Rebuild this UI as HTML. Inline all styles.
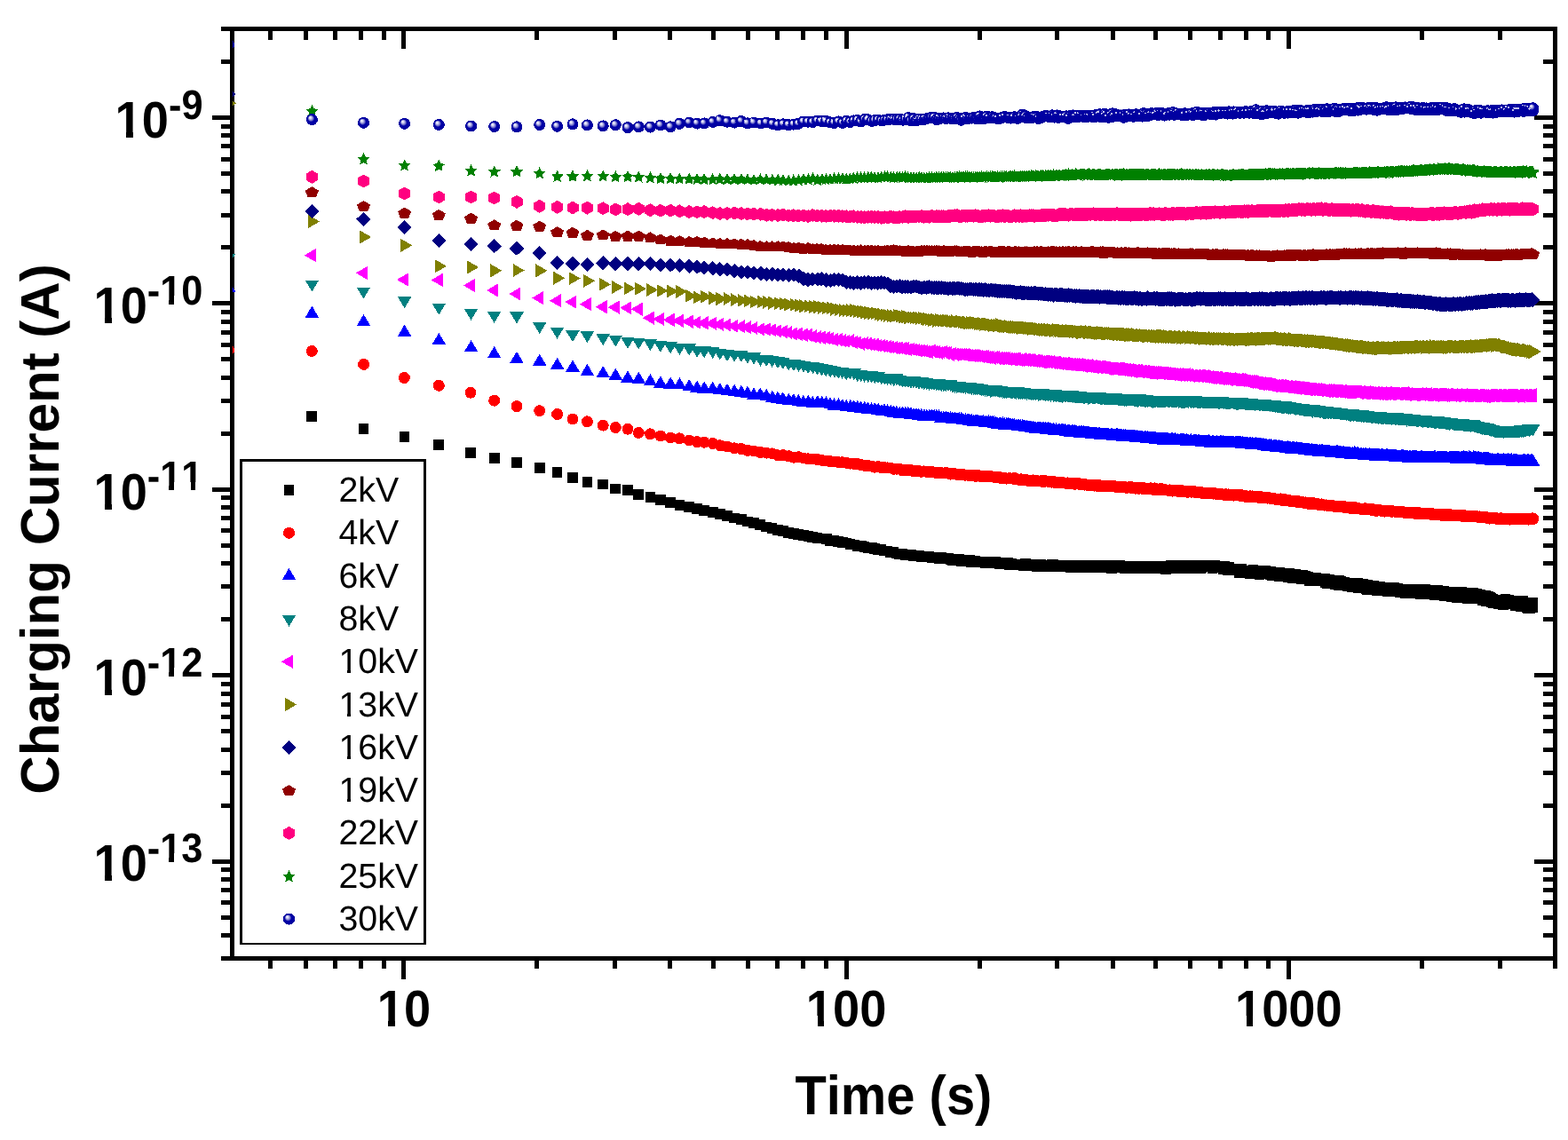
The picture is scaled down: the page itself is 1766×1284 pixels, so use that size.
<!DOCTYPE html><html><head><meta charset="utf-8"><title>Charging Current vs Time</title>
<style>html,body{margin:0;padding:0;background:#fff;}svg{display:block;}text{font-family:"Liberation Sans",Arial,Helvetica,sans-serif;}marker *,#defs-shapes *,polygon,rect,circle,path{shape-rendering:crispEdges;}</style></head><body>
<svg width="1766" height="1284" viewBox="0 0 1766 1284">
<defs>
<radialGradient id="gsph" cx="0.5" cy="0.5" r="0.5" fx="0.32" fy="0.3"><stop offset="0" stop-color="#ffffff"/><stop offset="0.17" stop-color="#d8d8f4"/><stop offset="0.35" stop-color="#7878cc"/><stop offset="0.52" stop-color="#0000a8"/><stop offset="1" stop-color="#00009e"/></radialGradient>
<radialGradient id="gsph2" cx="0.5" cy="0.5" r="0.5" fx="0.32" fy="0.3"><stop offset="0" stop-color="#ffffff"/><stop offset="0.2" stop-color="#d4d4f2"/><stop offset="0.42" stop-color="#7070c8"/><stop offset="0.58" stop-color="#0000a8"/><stop offset="1" stop-color="#00009e"/></radialGradient>
<clipPath id="cp"><rect x="261.9" y="32.4" width="1489.6" height="1047.1"/></clipPath>
<marker id="m0" markerUnits="userSpaceOnUse" markerWidth="20" markerHeight="20" refX="0" refY="0" viewBox="-10 -10 20 20" overflow="visible"><rect x="-5.8" y="-5.8" width="11.6" height="11.6" fill="#000000"/></marker>
<g id="s0"><rect x="-5.8" y="-5.8" width="11.6" height="11.6" fill="#000000"/></g>
<marker id="m1" markerUnits="userSpaceOnUse" markerWidth="20" markerHeight="20" refX="0" refY="0" viewBox="-10 -10 20 20" overflow="visible"><circle r="6.5" fill="#FF0000"/></marker>
<g id="s1"><circle r="6.5" fill="#FF0000"/></g>
<marker id="m2" markerUnits="userSpaceOnUse" markerWidth="20" markerHeight="20" refX="0" refY="0" viewBox="-10 -10 20 20" overflow="visible"><polygon points="0,-6.6 7.8,6.6 -7.8,6.6" fill="#0000FF"/></marker>
<g id="s2"><polygon points="0,-6.6 7.8,6.6 -7.8,6.6" fill="#0000FF"/></g>
<marker id="m3" markerUnits="userSpaceOnUse" markerWidth="20" markerHeight="20" refX="0" refY="0" viewBox="-10 -10 20 20" overflow="visible"><polygon points="0,6.5 7.8,-6.5 -7.8,-6.5" fill="#008080"/></marker>
<g id="s3"><polygon points="0,6.5 7.8,-6.5 -7.8,-6.5" fill="#008080"/></g>
<marker id="m4" markerUnits="userSpaceOnUse" markerWidth="20" markerHeight="20" refX="0" refY="0" viewBox="-10 -10 20 20" overflow="visible"><polygon points="-8.7,0 4.3,-7.6 4.3,7.6" fill="#FF00FF"/></marker>
<g id="s4"><polygon points="-8.7,0 4.3,-7.6 4.3,7.6" fill="#FF00FF"/></g>
<marker id="m5" markerUnits="userSpaceOnUse" markerWidth="20" markerHeight="20" refX="0" refY="0" viewBox="-10 -10 20 20" overflow="visible"><polygon points="8.7,0 -4.3,-7.5 -4.3,7.5" fill="#808000"/></marker>
<g id="s5"><polygon points="8.7,0 -4.3,-7.5 -4.3,7.5" fill="#808000"/></g>
<marker id="m6" markerUnits="userSpaceOnUse" markerWidth="20" markerHeight="20" refX="0" refY="0" viewBox="-10 -10 20 20" overflow="visible"><polygon points="0,-8.1 8.2,0 0,8.1 -8.2,0" fill="#000080"/></marker>
<g id="s6"><polygon points="0,-8.1 8.2,0 0,8.1 -8.2,0" fill="#000080"/></g>
<marker id="m7" markerUnits="userSpaceOnUse" markerWidth="20" markerHeight="20" refX="0" refY="0" viewBox="-10 -10 20 20" overflow="visible"><polygon points="0,-6 7.6,-1.4 4.7,6 -4.7,6 -7.6,-1.4" fill="#900000"/></marker>
<g id="s7"><polygon points="0,-6 7.6,-1.4 4.7,6 -4.7,6 -7.6,-1.4" fill="#900000"/></g>
<marker id="m8" markerUnits="userSpaceOnUse" markerWidth="20" markerHeight="20" refX="0" refY="0" viewBox="-10 -10 20 20" overflow="visible"><polygon points="0,-7.5 6.5,-3.75 6.5,3.75 0,7.5 -6.5,3.75 -6.5,-3.75" fill="#FF0080"/></marker>
<g id="s8"><polygon points="0,-7.5 6.5,-3.75 6.5,3.75 0,7.5 -6.5,3.75 -6.5,-3.75" fill="#FF0080"/></g>
<marker id="m9" markerUnits="userSpaceOnUse" markerWidth="20" markerHeight="20" refX="0" refY="0" viewBox="-10 -10 20 20" overflow="visible"><polygon points="0.00,-6.60 2.12,-2.22 6.94,-1.56 3.42,1.81 4.29,6.60 0.00,4.30 -4.29,6.60 -3.42,1.81 -6.94,-1.56 -2.12,-2.22" fill="#008000"/></marker>
<g id="s9"><polygon points="0.00,-6.60 2.12,-2.22 6.94,-1.56 3.42,1.81 4.29,6.60 0.00,4.30 -4.29,6.60 -3.42,1.81 -6.94,-1.56 -2.12,-2.22" fill="#008000"/></g>
<marker id="m10" markerUnits="userSpaceOnUse" markerWidth="20" markerHeight="20" refX="0" refY="0" viewBox="-10 -10 20 20" overflow="visible"><circle r="6.5" fill="url(#gsph)"/></marker>
<g id="s10"><circle r="6.5" fill="url(#gsph)"/></g>
<g id="sph2"><circle r="6.5" fill="url(#gsph2)"/></g>
</defs>
<rect width="100%" height="100%" fill="#fff"/>
<rect x="261.6" y="32.4" width="1489.9" height="1047.1" fill="none" stroke="#000" stroke-width="4.8"/>
<path d="M454.9 1079.5V1103.0M454.9 32.4V54.9M953.1 1079.5V1103.0M953.1 32.4V54.9M1451.3 1079.5V1103.0M1451.3 32.4V54.9M304.9 1079.5V1091.2M304.9 32.4V44.8M344.4 1079.5V1091.2M344.4 32.4V44.8M377.7 1079.5V1091.2M377.7 32.4V44.8M406.6 1079.5V1091.2M406.6 32.4V44.8M432.1 1079.5V1091.2M432.1 32.4V44.8M604.9 1079.5V1091.2M604.9 32.4V44.8M692.6 1079.5V1091.2M692.6 32.4V44.8M754.8 1079.5V1091.2M754.8 32.4V44.8M803.1 1079.5V1091.2M803.1 32.4V44.8M842.6 1079.5V1091.2M842.6 32.4V44.8M875.9 1079.5V1091.2M875.9 32.4V44.8M904.8 1079.5V1091.2M904.8 32.4V44.8M930.3 1079.5V1091.2M930.3 32.4V44.8M1103.1 1079.5V1091.2M1103.1 32.4V44.8M1190.8 1079.5V1091.2M1190.8 32.4V44.8M1253.0 1079.5V1091.2M1253.0 32.4V44.8M1301.3 1079.5V1091.2M1301.3 32.4V44.8M1340.8 1079.5V1091.2M1340.8 32.4V44.8M1374.1 1079.5V1091.2M1374.1 32.4V44.8M1403.0 1079.5V1091.2M1403.0 32.4V44.8M1428.5 1079.5V1091.2M1428.5 32.4V44.8M1601.3 1079.5V1091.2M1601.3 32.4V44.8M1689.0 1079.5V1091.2M1689.0 32.4V44.8M1751.2 1079.5V1091.2M1751.2 32.4V44.8M261.6 1079.6H249.20000000000002M1751.5 1079.6H1738.0M261.6 1053.4H249.20000000000002M1751.5 1053.4H1738.0M261.6 1033.1H249.20000000000002M1751.5 1033.1H1738.0M261.6 1016.6H249.20000000000002M1751.5 1016.6H1738.0M261.6 1002.5H249.20000000000002M1751.5 1002.5H1738.0M261.6 990.4H249.20000000000002M1751.5 990.4H1738.0M261.6 979.7H249.20000000000002M1751.5 979.7H1738.0M261.6 970.1H239.00000000000003M1751.5 970.1H1728.0M261.6 907.1H249.20000000000002M1751.5 907.1H1738.0M261.6 870.2H249.20000000000002M1751.5 870.2H1738.0M261.6 844.0H249.20000000000002M1751.5 844.0H1738.0M261.6 823.7H249.20000000000002M1751.5 823.7H1738.0M261.6 807.2H249.20000000000002M1751.5 807.2H1738.0M261.6 793.1H249.20000000000002M1751.5 793.1H1738.0M261.6 781.0H249.20000000000002M1751.5 781.0H1738.0M261.6 770.3H249.20000000000002M1751.5 770.3H1738.0M261.6 760.7H239.00000000000003M1751.5 760.7H1728.0M261.6 697.7H249.20000000000002M1751.5 697.7H1738.0M261.6 660.8H249.20000000000002M1751.5 660.8H1738.0M261.6 634.6H249.20000000000002M1751.5 634.6H1738.0M261.6 614.3H249.20000000000002M1751.5 614.3H1738.0M261.6 597.8H249.20000000000002M1751.5 597.8H1738.0M261.6 583.7H249.20000000000002M1751.5 583.7H1738.0M261.6 571.6H249.20000000000002M1751.5 571.6H1738.0M261.6 560.9H249.20000000000002M1751.5 560.9H1738.0M261.6 551.3H239.00000000000003M1751.5 551.3H1728.0M261.6 488.3H249.20000000000002M1751.5 488.3H1738.0M261.6 451.4H249.20000000000002M1751.5 451.4H1738.0M261.6 425.2H249.20000000000002M1751.5 425.2H1738.0M261.6 404.9H249.20000000000002M1751.5 404.9H1738.0M261.6 388.4H249.20000000000002M1751.5 388.4H1738.0M261.6 374.3H249.20000000000002M1751.5 374.3H1738.0M261.6 362.2H249.20000000000002M1751.5 362.2H1738.0M261.6 351.5H249.20000000000002M1751.5 351.5H1738.0M261.6 341.9H239.00000000000003M1751.5 341.9H1728.0M261.6 278.9H249.20000000000002M1751.5 278.9H1738.0M261.6 242.0H249.20000000000002M1751.5 242.0H1738.0M261.6 215.8H249.20000000000002M1751.5 215.8H1738.0M261.6 195.5H249.20000000000002M1751.5 195.5H1738.0M261.6 179.0H249.20000000000002M1751.5 179.0H1738.0M261.6 164.9H249.20000000000002M1751.5 164.9H1738.0M261.6 152.8H249.20000000000002M1751.5 152.8H1738.0M261.6 142.1H249.20000000000002M1751.5 142.1H1738.0M261.6 132.5H239.00000000000003M1751.5 132.5H1728.0M261.6 69.5H249.20000000000002M1751.5 69.5H1738.0M261.6 32.6H249.20000000000002M1751.5 32.6H1738.0" stroke="#000" stroke-width="5.0" stroke-linecap="butt" fill="none"/>
<g clip-path="url(#cp)">
<polyline points="351.3,468.7 409.6,482.7 455.4,491.7 494.3,501 530,509.7 556.7,515.9 582,520.8 607.7,527 627.6,532.3 645,537.9 661.4,543.1 679.2,545.6 693.3,550.5 707,551.7 719.3,556.7 732.4,560.1 743.9,562.9 755.2,566 765.4,568.8 776.2,571 785.1,572.9 793.2,574.9 802.7,577 810.8,578.8 819,580.9 827.1,583.5 834.9,584.9 841.9,587.5 849,589 856.3,591 863.1,593.4 869.5,595 876.1,596.7 882.1,598.2 887.7,599.7 893.9,601 899.3,602.1 904.9,602.8 910.4,604.2 915.3,604.9 920.5,606.1 925.6,606.6 930.7,607.3 935.1,608.7 939.6,609.2 944.1,610.2 948.9,611 953.4,611.6 957.5,612.7 961.7,613.4 965.9,614.7 969.8,615.2 973.6,616 977.7,617.2 981.7,617.1 985.2,618.3 988.7,618.7 992.4,619.1 996,620.6 999.5,620.6 1003.1,622.1 1006.4,622.2 1009.9,623.5 1013.3,624.2 1016.4,624.2 1019.6,625.4 1023,624.7 1025.8,625.1 1028.9,625.8 1032.1,625.8 1034.8,626.3 1037.9,626.8 1041,627.3 1043.7,627.4 1046.6,626.9 1049.5,628.3 1052.2,628.6 1054.8,628.2 1057.4,628.8 1060,628.2 1062.7,628.6 1065.3,628.7 1067.8,629.1 1070.3,629.7 1072.8,630.8 1075.5,629.9 1077.8,630.4 1080.3,630.3 1082.8,632 1085.1,631.4 1087.3,630.9 1089.7,631.3 1092.1,631.3 1094.1,632.9 1096.5,631.6 1098.7,631.5 1100.9,633.5 1103.2,633.1 1105.2,632.6 1107.3,633.6 1109.5,633.8 1111.5,632.8 1113.7,634.5 1115.8,634.3 1117.8,634.3 1119.7,634 1121.7,633.2 1123.6,633.8 1125.6,634.7 1127.7,634.3 1129.6,635.6 1131.6,634.4 1133.3,634.2 1135.1,634.3 1137.1,635.9 1139,635.1 1140.8,635.9 1142.5,635.7 1144.4,636 1146.2,635.5 1147.8,636.3 1149.6,636.4 1151.5,635.6 1153.1,636.9 1154.9,635.3 1156.4,635.4 1158.3,636.9 1159.8,637.1 1161.6,636.8 1163.1,636.6 1164.7,635.5 1166.5,637.1 1168,637.8 1169.6,637.6 1171.3,636.1 1172.7,636.3 1174.3,637.1 1175.8,636.7 1177.4,637.9 1178.9,636.9 1180.5,638 1182,638 1183.5,637.1 1185,635.9 1186.4,636.3 1187.8,637.9 1189.3,637.1 1190.9,637.3 1192.2,637.3 1193.7,638 1195,637.4 1196.5,636.7 1198,637.3 1199.3,638 1200.8,637.2 1202.1,637.4 1203.4,637.9 1204.8,637.6 1206.1,638.7 1207.5,638.5 1208.9,636.9 1210.1,638.8 1211.5,636.6 1212.7,637.5 1214,636.9 1215.3,638.1 1216.7,638.8 1217.8,638.3 1219.2,636.8 1220.5,639.1 1221.6,639 1222.9,637.8 1224.2,638.8 1225.4,637.7 1226.6,637.4 1227.8,637.4 1229.1,636.6 1230.3,637.8 1231.4,637.5 1232.7,638 1233.8,639.4 1235.1,639.4 1236.1,637.4 1237.3,638.9 1238.5,637.1 1239.7,639.3 1240.9,637.5 1241.9,639.4 1243.1,638.8 1244.2,636.9 1245.4,638 1246.4,639.6 1247.6,639.2 1248.6,639.4 1249.7,639.4 1250.9,637.9 1252,639.7 1253,637.3 1254.1,637.6 1255.2,637.4 1256.2,637.6 1257.3,637.9 1258.4,637.9 1259.5,637.6 1260.5,637.1 1261.5,637.1 1262.6,638.8 1263.6,638.5 1264.7,637.4 1265.7,638.5 1266.7,639.7 1267.7,638.7 1268.7,640.2 1269.7,639.8 1270.7,639.2 1271.7,638.3 1272.6,637.6 1273.6,639.6 1274.6,637.8 1275.6,639.9 1276.7,639.4 1277.6,638.1 1278.5,638.8 1279.5,638.8 1280.4,640.4 1281.5,639.1 1282.3,640.5 1283.3,638.5 1284.2,638.6 1285.2,639.1 1286.1,639.1 1287,638.3 1287.9,638.8 1288.8,637.5 1289.8,638.3 1290.7,639.3 1291.6,639.7 1292.5,640.5 1293.4,638.6 1294.4,638.1 1295.2,639.7 1296,640.4 1297,639.7 1297.9,640.4 1298.7,639.4 1299.6,640.4 1300.5,640.4 1301.3,640.6 1302.2,639.9 1303,637.6 1303.9,638.7 1304.7,640.3 1305.6,639.6 1306.5,639.8 1307.3,637.4 1308.2,640 1309,639.2 1309.8,637.6 1310.7,638.2 1311.4,638.2 1312.3,638 1313.2,640.7 1313.9,638.6 1314.8,639.6 1315.6,639.4 1316.4,637.4 1317.2,638.1 1318,638.2 1318.8,637.2 1320.4,639.5 1321.2,639.5 1322.7,638.7 1323.5,637.4 1324.3,637.7 1325.1,640.3 1326.6,639.9 1327.4,638.5 1328.9,640.3 1329.7,639 1330.4,638.8 1331.2,637.3 1332.7,640 1333.5,637.6 1334.2,638.5 1335.6,638.5 1336.4,637.8 1337.9,637.8 1338.6,636.7 1340.1,637.1 1341.5,640 1342.9,638 1343.7,638.7 1345.1,637.5 1346.4,639.6 1347.9,637.4 1349.3,637.1 1350.7,639.8 1352,639.8 1353.4,639.1 1354.8,638 1356.1,637.3 1357.5,636.7 1358.8,637.3 1360.1,637.2 1361.4,638.3 1362.7,636.7 1364,638 1365.3,640 1366.6,637 1367.9,636.8 1369.1,638.9 1370.4,638.5 1371.7,638.6 1372.9,638.3 1374.1,639.4 1375.4,638.5 1376.6,639.4 1377.8,641.4 1379,638.3 1380.3,640.3 1381.4,640.1 1382.6,642.2 1383.8,639.3 1385,641.9 1386.2,641.9 1387.3,641.7 1388.5,640.6 1389.6,641.1 1390.8,642.6 1391.9,640.4 1393.1,641.9 1394.2,640.5 1395.3,644.7 1396.5,642.8 1397.5,645.1 1398.6,641.2 1399.8,643.1 1400.9,645.4 1401.9,642.9 1403,642.4 1404.1,643.8 1405.2,643 1406.2,642.7 1407.3,646 1408.3,642.9 1409.4,646.1 1410.5,643 1411.5,642.3 1412.5,646.1 1413.6,646.6 1414.6,643.1 1415.6,642.5 1416.6,644.1 1417.6,642.5 1418.7,646.8 1419.7,643.6 1420.7,646.4 1421.6,644.9 1422.7,643.7 1423.7,643 1424.6,646.4 1425.6,643.3 1426.6,646.5 1427.5,644.4 1428.5,644.4 1429.5,644.5 1430.4,647.5 1431.4,643.5 1432.3,647.8 1433.3,644.7 1434.2,647.8 1435.2,647 1436.1,646.5 1437,645.5 1437.9,644.9 1438.8,644.4 1439.8,645.7 1440.7,648.9 1441.5,644.9 1442.5,646.7 1443.4,647.6 1444.3,648.8 1445.1,648.9 1446.1,646.8 1446.9,646.4 1447.8,649.5 1448.7,647.3 1449.6,646.7 1450.4,650.4 1451.3,649.7 1452.2,646.1 1453,647 1453.9,650.6 1454.8,648.4 1455.6,650.9 1456.4,649.5 1457.3,647.3 1458.1,649.6 1458.9,646.9 1459.8,647.9 1460.6,650.9 1461.4,647.7 1462.3,650.4 1463.1,650.8 1463.9,649.1 1464.7,650.4 1465.5,652 1466.3,648.9 1467.1,648 1468,652.1 1468.8,650.5 1469.5,651 1470.4,648.9 1471.1,651 1471.9,651.2 1472.7,651.2 1473.5,649.9 1474.3,653.8 1475.5,651.1 1476.2,653.4 1477,650.5 1477.8,653.6 1478.9,652.2 1480,653.4 1481.2,653.7 1481.9,650.6 1483.1,651.7 1484.2,653.7 1485.3,653.6 1486.4,654.6 1487.5,651.4 1488.6,653.2 1489.7,651.5 1490.8,651.5 1491.9,652.1 1492.9,655.8 1494,656.6 1495,656.7 1496.1,652.9 1497.2,652.9 1498.2,653.7 1499.2,653.4 1500.3,657.3 1501.3,655.6 1502.4,655.9 1503.3,658.3 1504.4,654.6 1505.4,657.4 1506.4,653.8 1507.4,658.9 1508.4,653.9 1509.4,656.3 1510.4,655.3 1511.4,656.2 1512.3,657.5 1513.3,657.1 1514.3,655.5 1515.3,659 1516.2,658.5 1517.2,657.5 1518.1,660.1 1519.1,656.7 1520,658.5 1521,659 1521.9,656.8 1522.8,660.8 1523.8,660.7 1524.7,658.7 1525.6,656.6 1526.6,661.1 1527.5,659 1528.4,660.3 1529.3,657 1530.2,662.2 1531.1,659 1532,661.1 1532.9,662.1 1533.8,661.6 1534.7,661.2 1535.5,658 1536.4,658.8 1537.3,661.6 1538.1,661.5 1539,663.3 1539.9,663.8 1540.7,658.8 1541.6,663.4 1542.5,659.4 1543.3,661.4 1544.2,663.1 1545,662.1 1545.8,661.7 1546.7,663.5 1547.5,660.1 1548.3,660.8 1549.2,662.5 1550,662.6 1550.8,665.3 1551.6,662.8 1552.4,664.5 1553.3,662.1 1554.1,660.6 1554.9,661.7 1555.7,665.3 1556.5,664.6 1557.3,662.2 1558.1,664.7 1558.9,663.8 1559.7,661.9 1560.4,665.5 1561.2,662.6 1562,661.8 1562.8,666.4 1563.6,665.5 1564.6,661.5 1565.6,665.6 1566.4,663.8 1567.1,665.4 1567.9,665.6 1568.7,666.4 1569.4,665.3 1570.4,661.9 1571.4,662.9 1572.4,665.5 1573.4,663.9 1574.4,662.6 1575.3,665.1 1576.3,666.7 1577.3,665.9 1578.3,664.1 1579.2,664.5 1580.1,663.4 1581.1,667 1582.1,667.1 1583,668.1 1583.9,665.2 1584.9,664.6 1585.8,665.1 1586.7,664.1 1587.7,666.7 1588.6,667.7 1589.5,666.6 1590.4,664.4 1591.3,665 1592.2,668.4 1593.1,667.9 1594,667.7 1594.9,664.6 1595.8,664.2 1596.7,663.4 1597.6,668.6 1598.4,667.4 1599.3,669.3 1600.2,669.2 1601.1,669 1601.9,665 1602.8,665.6 1603.6,667 1604.5,665.9 1605.4,664.2 1606.2,665.9 1607,668.2 1607.9,668.1 1608.7,668.4 1609.5,664.5 1610.4,669.5 1611.2,667 1612,664.8 1612.9,668.1 1613.7,668.3 1614.5,665.3 1615.3,664.7 1616.1,670.3 1616.9,669.5 1617.7,670.3 1618.5,667.8 1619.3,665 1620.1,667 1620.9,665.5 1621.7,666.1 1622.5,667.9 1623.3,668.9 1624.1,670.6 1624.8,669.2 1625.6,669.8 1626.4,665.5 1627.2,671.2 1627.9,669.3 1628.7,671.5 1629.4,667 1630.2,670.1 1631,670.9 1631.7,667.3 1632.6,669.7 1633.4,668.3 1634.3,672.5 1635.1,667.1 1636,672.6 1636.9,669 1637.8,666.5 1638.7,672 1639.6,669 1640.5,672.7 1641.5,673.1 1642.3,672.5 1643.2,673.2 1644.1,668.7 1645,667.6 1645.9,666.9 1646.8,673.1 1647.6,673.1 1648.5,670.2 1649.4,670.8 1650.2,668.9 1651.1,673.2 1652,668.7 1652.8,674 1653.7,667.8 1654.5,669.7 1655.4,670.4 1656.2,672.7 1657,670.9 1657.9,671.6 1658.7,668.1 1659.5,667.9 1660.4,673.5 1661.2,671.6 1662,674.1 1662.8,674.3 1663.6,668.7 1664.4,674.3 1665.2,672.9 1666.1,673.9 1666.8,670 1667.6,673.2 1668.4,672.3 1669.2,671.9 1670,676 1670.8,676.4 1671.6,670.5 1672.4,675.6 1673.2,670.6 1673.9,676.9 1674.7,672.7 1675.5,674.4 1676.2,671.9 1677,674.9 1677.7,676.2 1678.5,673.1 1679.3,674 1680,678.6 1680.8,674.9 1681.7,678.8 1682.4,676.5 1683.3,675.7 1684.2,677.9 1685.1,678.8 1685.9,675.6 1686.8,676.2 1687.7,679.7 1688.6,679.8 1689.4,677.3 1690.3,677.8 1691.2,676.5 1692,678.2 1692.9,680.9 1693.7,681.1 1694.6,675.5 1695.4,674.6 1696.2,680.4 1697.1,679.1 1697.9,680 1698.7,680.5 1699.6,676 1700.4,677.7 1701.2,676.8 1702,677.3 1702.8,680.4 1703.6,676.6 1704.4,679.3 1705.3,677.4 1706.1,676.8 1706.9,681.9 1707.7,677.4 1708.4,677.9 1709.2,682.5 1710,681 1710.8,678.7 1711.6,677 1712.4,683.2 1713.1,681.6 1713.9,682.9 1714.7,682.1 1715.4,677.3 1716.2,679 1717,679.3 1717.9,678.9 1718.6,683.5 1719.4,682.9 1720.2,684.4 1721.1,684.8 1722,680.2 1722.8,684.8 1723.7,682.1 1724.6,679.1 1725.4,681.7 1726.1,678.6 1726.3,684 1726.4,683.7 1726.5,682.7 1726.6,682.1" fill="none" stroke="none" marker-start="url(#m0)" marker-mid="url(#m0)" marker-end="url(#m0)"/>
<polyline points="257.5,394.4 351.3,395.4 409.6,410.4 455.4,425.5 494.3,434.3 530,442.2 556.7,451.2 582,457.6 607.7,462.7 627.6,466.5 645,472.1 661.4,474.8 679.2,479.1 693.3,481.5 707,483.2 719.3,487.4 732.4,488.8 743.9,491 755.2,493 765.4,493.8 776.2,496 785.1,497.6 793.2,498.2 802.7,499.5 810.8,501.7 819,503 827.1,504.8 834.9,505.5 841.9,507.4 849,508.1 856.4,509.6 863.2,510.1 869.8,510.9 875.8,512.7 881.8,512.6 888.3,513.7 893.9,515.2 899.4,514.7 904.9,516 910.3,516.8 915.2,517 920.5,517.5 925.8,518.4 930.3,519 934.9,519.5 940,520 944.5,520.7 948.7,520.7 953.2,521.3 957.4,522.1 961.6,522.3 966,522.6 969.6,523.5 973.8,524.4 977.6,524.6 981.4,525.1 985.2,526.2 989.1,525.7 992.8,526.8 996.3,526.6 999.5,526.9 1003.1,527.1 1006.6,528.3 1010,528.2 1013.1,528.3 1016.3,529.7 1019.5,529.3 1022.7,529.4 1026,529.6 1029,530.5 1032,530.1 1034.9,530.5 1037.8,531.3 1040.7,530.9 1043.9,531.4 1046.6,531.8 1049.3,531.4 1052,532.1 1054.9,532.6 1057.5,532.8 1060,532.6 1062.8,533 1065.5,532.6 1068,533.2 1070.4,534.1 1072.8,533.7 1075.5,533.8 1078,534.3 1080.3,534.4 1082.8,534.3 1084.9,534.7 1087.3,535.2 1089.7,535.1 1092.1,535.5 1094.2,535.8 1096.6,535.3 1098.7,536.4 1100.8,535.6 1103.2,535.8 1105.3,536.8 1107.5,536.7 1109.6,536.8 1111.7,536.7 1113.7,536.8 1115.6,536.5 1117.6,537 1119.9,537.3 1121.7,537.3 1123.7,538 1125.6,537.5 1127.5,538.5 1129.5,538.6 1131.5,538.3 1133.3,539.1 1135.1,539 1137.1,538.6 1139,539.1 1140.7,539.2 1142.5,538.6 1144.4,539.5 1146,539.9 1147.9,540.4 1149.6,539.8 1151.4,540.2 1153.1,540.6 1154.7,540.1 1156.5,540.7 1158.2,541.4 1159.8,541 1161.5,541.3 1163.2,540.9 1164.7,541.5 1166.4,541.4 1168,541.6 1169.7,541.9 1171.2,541.9 1172.7,541.9 1174.3,542.5 1175.9,541.3 1177.5,542.2 1178.9,541.9 1180.6,542.3 1182,542.4 1183.5,542.4 1184.9,543.1 1186.5,542.4 1187.9,543 1189.4,543.8 1190.8,543.2 1192.3,543.3 1193.7,543.9 1195.1,543.9 1196.6,543.5 1197.9,544 1199.3,544 1200.6,544.3 1202.1,543.9 1203.4,544.5 1204.7,544.6 1206.1,544.7 1207.4,544.7 1208.9,544.4 1210.1,545.3 1211.4,544.8 1212.7,544.2 1214,544.8 1215.4,544.7 1216.6,545.8 1217.9,545.8 1219.1,545.5 1220.4,545.9 1221.7,546.1 1222.9,545.8 1224.2,546.2 1225.5,546 1226.7,546.1 1227.9,546.3 1229.1,546.4 1230.3,546.5 1231.4,546.8 1232.7,547.1 1233.9,546.5 1235,546.6 1236.2,547.5 1237.3,546.9 1238.5,546.8 1239.7,547.6 1240.8,547.4 1242,547.1 1243.1,547.2 1244.2,547.8 1245.4,547.3 1246.4,547.1 1247.6,547.3 1248.6,547.8 1249.8,547.9 1250.8,548 1252,547.5 1253.1,547.5 1254.2,547.8 1255.2,548.1 1256.3,547.9 1257.4,548.2 1258.4,548 1259.5,548.1 1260.5,548.5 1261.6,548.5 1262.6,548.5 1263.6,548.6 1264.7,548.3 1265.6,548.7 1266.6,548.6 1267.7,549.2 1268.7,549 1269.7,549.2 1270.7,548.9 1271.7,549 1272.7,548.3 1273.6,549.2 1274.7,549 1275.6,549.1 1276.6,549.1 1277.6,549.1 1278.5,550.1 1279.5,550 1280.4,549.8 1281.5,550 1282.3,549.8 1283.3,550.2 1284.2,549.6 1285.1,549.8 1286.1,550.3 1287,550 1287.9,549.5 1288.9,550.2 1289.7,550.6 1290.7,550.4 1291.6,550 1292.5,550.2 1293.4,550.6 1294.3,550.7 1295.2,550.9 1296.1,549.8 1296.9,550.2 1297.9,550.2 1298.8,551.1 1299.6,551.5 1300.4,549.9 1301.3,551.6 1302.1,551.5 1303.1,551.3 1303.9,551.5 1304.7,551.1 1305.6,551.1 1306.5,551.1 1307.4,550.6 1309,551.6 1309.8,551 1310.7,551.6 1311.4,552 1312.3,552 1313.2,551.8 1314.8,552.2 1315.5,552.3 1316.4,552.4 1317.2,552.6 1317.9,551.9 1318.8,552.6 1320.4,553.1 1321.2,552.3 1322.7,552.5 1323.5,552.7 1324.3,552.3 1325.1,553 1326.6,552.6 1327.4,552.6 1328.2,553.7 1328.9,553 1330.4,552.3 1331.2,553.7 1331.9,553.1 1332.7,553.5 1334.2,553.7 1335.7,553.5 1337.1,554.2 1337.9,554.2 1339.3,553.8 1340.1,553.6 1341.5,554.1 1342.2,554.1 1343.7,553.3 1345.1,553.7 1346.5,554.4 1347.9,554.2 1349.3,554.4 1350.7,554.4 1352.1,554.3 1353.4,555.1 1354.7,555.5 1356.1,555 1357.4,555.6 1358.8,556 1360.1,555.6 1361.4,555.5 1362.7,555.9 1364,556 1365.3,555.8 1366.6,556.1 1367.9,555.5 1369.1,556.3 1370.4,556 1371.6,556.3 1372.9,556.6 1374.1,557 1375.4,556.5 1376.6,557 1377.8,556.9 1379,557.3 1380.2,556.7 1381.4,557.2 1382.6,557.3 1383.8,556.9 1385,557.9 1386.2,557.3 1387.3,557.5 1388.5,557.2 1389.7,558.1 1390.8,557.8 1391.9,557.1 1393.1,558 1394.2,557.7 1395.3,557.6 1396.4,558.2 1397.5,557.6 1398.7,558.4 1399.8,558.5 1400.9,558.4 1402,558.2 1403,559.3 1404.1,558.8 1405.2,559.9 1406.2,559 1407.3,559.4 1408.4,558.8 1409.4,559.7 1410.5,558.9 1411.5,559.2 1412.5,559.5 1413.6,559.8 1414.6,559.6 1415.6,559.5 1416.6,559.9 1417.7,559.9 1418.7,560.7 1419.7,559.6 1420.7,560.6 1421.6,560.5 1422.6,560.4 1423.7,560.8 1424.6,560.3 1425.6,560.9 1426.6,560.7 1427.5,561.2 1428.5,560.3 1429.5,561.1 1430.4,561.1 1431.4,561.3 1432.3,561.7 1433.2,561.8 1434.2,561.5 1435.2,561.7 1436.1,561.9 1437,562.3 1437.9,562.3 1438.8,562.2 1439.8,562.1 1440.7,562.3 1441.6,562.8 1442.5,561.9 1443.4,562.8 1444.2,562.7 1445.1,563.7 1446,562.3 1447,562.7 1447.8,563.1 1448.7,563.7 1449.6,563.5 1450.4,563.8 1451.3,563.4 1452.2,563.6 1453,564.3 1453.9,564.4 1454.7,564.6 1455.6,565 1456.4,564.5 1457.3,564.6 1458.1,564.9 1459,565 1459.8,564.9 1460.6,565.3 1461.5,564.3 1462.3,565.1 1463.1,564.8 1463.9,565.1 1464.7,565.8 1465.5,565.6 1466.3,565.4 1467.2,565.6 1467.9,565.9 1468.7,566.4 1469.6,566.2 1470.3,565.9 1471.1,566.6 1471.9,566.2 1472.7,566.4 1473.5,566.4 1474.3,566.2 1475.1,567.6 1475.8,567 1476.6,566.2 1477.4,567.4 1478.1,566.6 1479.3,567 1480,566.9 1480.8,567.5 1481.9,567 1482.7,567.9 1483.8,567.6 1484.9,568 1486,568.8 1487.1,568.1 1488.2,567.9 1489.3,568.4 1490.4,568.8 1491.5,569.2 1492.6,569 1493.6,568.9 1494.7,569.4 1495.7,569.2 1496.8,569 1497.9,569.6 1498.9,569.8 1499.9,569.4 1501,570.1 1502,569.9 1503,570 1504,570.5 1505,570.5 1506.1,570.7 1507.1,570.6 1508.1,570 1509.1,570.5 1510.1,570.5 1511.1,570.4 1512,570.8 1513,571.2 1514,570.6 1515,571.6 1515.9,571.8 1516.9,571.3 1517.8,571.4 1518.8,571.8 1519.7,571.8 1520.7,571.6 1521.6,572.7 1522.6,571.8 1523.5,572.3 1524.4,572.3 1525.4,571.6 1526.3,572.5 1527.2,571.9 1528.1,572.3 1529,572.4 1529.9,572.5 1530.8,572.8 1531.7,573.1 1532.6,573.2 1533.5,573.2 1534.4,573.7 1535.3,573 1536.1,572.9 1537,573.3 1537.9,572.8 1538.7,573.6 1539.6,573.8 1540.5,573.1 1541.3,573.8 1542.2,573.3 1543,574 1543.9,574.2 1544.7,573.7 1545.6,573.4 1546.4,574.8 1547.2,574.4 1548.1,575.1 1548.9,574.7 1549.7,574.8 1550.6,575.3 1551.4,575.2 1552.2,574.9 1553,574.4 1553.8,574.9 1554.6,575.1 1555.4,575 1556.2,575 1557,575.4 1557.8,575.4 1558.6,575.8 1559.4,576.1 1560.2,575.2 1561,575.4 1561.7,575 1562.5,575.8 1563.3,575.7 1564.3,575.8 1565.1,575.4 1566.1,575.5 1566.9,575.8 1567.6,576.3 1568.4,576 1569.4,575.8 1570.2,576 1570.9,576.1 1571.9,576.3 1572.9,576.2 1573.9,576.5 1574.8,577 1575.8,576.8 1576.8,576.5 1577.7,576.8 1578.7,577 1579.7,576.4 1580.6,577.2 1581.6,576.9 1582.5,577.8 1583.5,577.7 1584.4,577.3 1585.3,577.3 1586.3,577.8 1587.2,577.6 1588.1,577.9 1589,577.9 1590,578 1590.9,577.2 1591.8,577.9 1592.7,577.9 1593.6,578.4 1594.5,577.7 1595.4,578.2 1596.2,578 1597.1,577.3 1598,578.6 1598.9,578.3 1599.8,578.4 1600.6,578.3 1601.5,578.5 1602.4,578.3 1603.2,578.3 1604.1,578.8 1604.9,578.7 1605.8,578.8 1606.6,578.6 1607.5,578.6 1608.3,578.5 1609.1,578 1610,579 1610.8,578.5 1611.6,579.3 1612.5,579.3 1613.3,578.7 1614.1,579.3 1614.9,579.4 1615.7,579.4 1616.5,579.2 1617.3,579.6 1618.1,579.6 1618.9,579.1 1619.7,579.9 1620.5,579.8 1621.3,579.8 1622.1,579.9 1622.9,579.8 1623.7,580.4 1624.4,579.6 1625.2,579.7 1626,580.6 1626.8,580.6 1627.5,580.6 1628.3,579.7 1629.3,579.9 1630.2,580.1 1631.1,580.3 1631.9,579.4 1632.7,579.7 1633.6,580.7 1634.3,580.2 1635.2,580 1636.2,580.7 1637.1,580.5 1638,580.6 1638.9,580.1 1639.8,580.3 1640.7,580.6 1641.6,580.6 1642.5,580.8 1643.4,580.8 1644.3,580.6 1645.2,580.5 1646.1,581.2 1647,580.9 1647.8,580.1 1648.7,581.4 1649.6,581.2 1650.4,581.1 1651.3,581 1652.1,581.1 1653,581.3 1653.8,581.8 1654.7,581.2 1655.5,581 1656.4,581.9 1657.2,581.9 1658,581.5 1658.9,581.6 1659.7,581.7 1660.5,581.6 1661.3,581.8 1662.2,581.1 1663,581.8 1663.8,582.2 1664.6,582 1665.4,582.3 1666.2,581.9 1667,582.7 1667.8,582.6 1668.6,582.6 1669.4,582.3 1670.2,582.3 1671,582.1 1671.7,582.8 1672.5,582.8 1673.3,582.5 1674.1,583.1 1674.8,583.4 1675.6,583 1676.4,583.7 1677.1,583.5 1677.9,584.1 1678.7,583.6 1679.4,584 1680.2,583.8 1681.1,583.5 1682,584.1 1682.9,583.4 1683.7,583.6 1684.5,583.9 1685.4,584.3 1686.2,583.8 1687.1,584.2 1688,584.4 1688.9,584.3 1689.7,584 1690.6,583.7 1691.4,585 1692.3,584.1 1693.1,584.5 1694,584.3 1694.8,584.1 1695.7,584.5 1696.5,584.1 1697.4,584.4 1698.2,584 1699,584.3 1699.8,584.7 1700.7,585.1 1701.5,584.6 1702.3,584.4 1703.1,584.5 1703.9,584.7 1704.7,584.2 1705.5,584 1706.3,584.7 1707.1,584.2 1707.9,584.7 1708.7,584.1 1709.5,584.4 1710.3,584 1711.1,584 1711.8,584.4 1712.6,584.1 1713.4,584.7 1714.2,584.2 1714.9,584.4 1715.7,584.3 1716.5,584.7 1717.2,584.3 1718.1,584.3 1718.9,584.2 1719.6,584.4 1720.5,584.5 1721.2,585.1 1722,584.1 1722.9,584.3 1723.7,584.8 1724.6,584.4 1725.4,584.2 1726,584.3 1726.2,584.1 1726.3,583.8 1726.4,584.9 1726.5,583.9" fill="none" stroke="none" marker-start="url(#m1)" marker-mid="url(#m1)" marker-end="url(#m1)"/>
<polyline points="257.5,322.1 351.4,351.2 409.5,360.5 455.6,372.2 494.3,381.5 530.6,389.7 556.7,396.7 582,402.4 607.7,405.1 627.6,409.3 645,411.9 661.4,416.5 679.2,418.7 693.3,421.3 707,423.9 719.3,425.2 732.4,427.8 743.9,430 755.2,431 765.4,431.6 776.2,433.6 785.1,435.1 793.2,436 802.7,436.4 810.8,437.7 819,438.5 827.1,439.3 834.9,440.2 841.9,441.3 849,442.9 856.2,443.1 863.2,444.3 869.9,446.1 875.9,447.2 881.8,447.9 888.3,449.1 893.8,449.7 899.3,450.5 904.9,451.4 910.4,451.3 915.3,452.6 920.8,451.7 925.7,452.4 930.4,452.8 935.1,453.8 939.5,455 944.4,454.7 948.9,455.5 953.3,456.4 957.7,456.7 961.7,457 965.8,457.4 969.6,458.2 973.8,458.4 977.6,459.2 981.5,459.7 985.1,459.7 989.1,460.1 992.8,461.8 996,460.8 999.6,461.6 1003.2,462.5 1006.4,463 1009.8,463.3 1013.2,464.3 1016.6,464.2 1019.8,464.4 1022.9,464.3 1026,465.1 1029,465.4 1032.2,465.7 1034.9,466.3 1037.8,466.5 1040.9,466.9 1043.6,467.5 1046.7,467.1 1049.5,467.2 1052.3,467.7 1054.7,467.7 1057.4,467.6 1060.1,469.1 1062.8,469.3 1065.5,469.3 1068,469.5 1070.4,469.7 1072.9,470.1 1075.6,470.1 1077.8,470.8 1080.3,470.4 1082.8,470.5 1084.9,471.5 1087.5,471.6 1089.8,471.7 1091.9,472.2 1094.3,472.5 1096.6,473.6 1098.8,472.7 1101,473.2 1103.1,473.6 1105.2,473.6 1107.3,473.5 1109.4,474.1 1111.7,474.5 1113.6,473.8 1115.7,474.5 1117.7,474.7 1119.6,474.9 1121.7,475.3 1123.7,476 1125.8,475.7 1127.6,476.1 1129.5,475.8 1131.4,476.9 1133.4,476.8 1135.2,476.5 1137.2,476.9 1138.8,477.1 1140.6,477.4 1142.6,477.8 1144.3,477.8 1146.2,478.5 1147.8,478.5 1149.6,478.8 1151.5,478.7 1153,478.6 1154.7,479.6 1156.5,479.8 1158.1,479.5 1159.9,479.7 1161.5,480.4 1163.2,480.5 1164.8,480.6 1166.4,481 1168.1,481.3 1169.5,481.3 1171.2,480.8 1172.7,481.3 1174.4,481.7 1175.8,481.5 1177.5,481.7 1179,482.1 1180.5,482 1182,482.2 1183.6,482.4 1185,482.3 1186.4,482.7 1187.9,483.2 1189.4,482.6 1190.9,483.8 1192.3,483.4 1193.6,483.6 1195.1,483.3 1196.6,483.1 1197.8,483.5 1199.2,483.2 1200.7,484.4 1202.1,484.3 1203.4,484.1 1204.8,484.1 1206.1,484.9 1207.4,484.6 1208.7,484.7 1210.1,484.2 1211.4,485.4 1212.7,484.8 1214,485.3 1215.3,485.4 1216.6,486.4 1217.9,484.9 1219.2,486 1220.4,485.3 1221.8,485.6 1222.9,485.5 1224.1,485.9 1225.4,486.4 1226.6,486.1 1227.8,486.6 1229,486.4 1230.3,486.9 1231.5,487.2 1232.6,487.5 1233.9,487.1 1235,486.8 1236.2,487.8 1237.3,487.3 1238.5,487.2 1239.7,488 1240.8,487.8 1242,487.7 1243.1,487.9 1244.3,488.4 1245.4,488.2 1246.5,488.5 1247.6,488.1 1248.7,488 1249.8,488.8 1250.8,488.7 1252,488.2 1253.1,488.7 1254.2,488.9 1255.2,489.3 1256.3,489 1257.3,488.7 1258.4,488.7 1259.5,489.4 1260.5,489.6 1261.5,489.2 1262.6,489.8 1263.6,489.6 1264.6,490.3 1265.6,489.5 1266.7,490.2 1267.7,489.7 1268.7,489.9 1269.8,490.3 1270.7,489.8 1271.7,490.6 1272.6,490.1 1273.6,490.7 1274.6,490.5 1275.7,490.3 1276.6,490.7 1277.6,490.8 1278.6,490.8 1279.5,491.1 1280.5,491 1281.4,491.5 1282.3,491.4 1283.3,491.3 1284.2,491.1 1285.1,491.4 1286.1,491.2 1287.1,491.7 1287.9,491.8 1288.9,491.6 1289.8,491.4 1290.6,491.6 1291.6,492 1292.5,491.7 1293.4,492.1 1294.3,492.1 1295.2,491.7 1296.1,491.8 1297,491.8 1297.8,492.8 1298.7,492.4 1299.7,492.1 1300.4,492.3 1301.3,492.7 1302.2,492.9 1303.1,492.9 1303.9,492.6 1304.8,493.3 1305.7,493.1 1306.5,493.3 1307.3,493.1 1308.2,492.8 1309,492.8 1309.8,493.5 1310.6,493.9 1311.5,493.6 1312.3,493 1313.1,492.9 1313.9,493.5 1314.8,493.1 1315.6,493.2 1317.2,493.8 1318,493.3 1318.8,493.8 1319.6,493.1 1320.4,493.9 1321.2,494 1322,493.9 1322.8,493.7 1323.5,493.6 1324.3,494.2 1325.1,494.5 1326.6,494.4 1328.2,494.6 1329.7,494.6 1330.5,494.6 1331.9,494.2 1332.7,494.1 1333.5,494.3 1335,494.5 1336.4,494.4 1337.2,495 1338.6,495.2 1340.1,495.2 1341.5,494.9 1343,495.8 1344.3,495.5 1345.1,495 1346.5,495.4 1347.9,495.2 1349.3,495.6 1350.6,495.6 1352,495.5 1353.4,496.5 1354.7,495.9 1356.1,495.6 1357.4,496.6 1358.8,496.5 1360.1,496 1361.4,495.8 1362.7,496.2 1364,496.9 1365.3,496.4 1366.6,496.7 1367.9,497.1 1369.2,496.6 1370.4,496.2 1371.6,497.1 1372.9,497 1374.2,496.5 1375.4,496.3 1376.6,497.3 1377.8,496.5 1379,497.2 1380.3,496.9 1381.4,497.6 1382.6,497 1383.8,496.7 1385,496.5 1386.1,497.3 1387.3,496.9 1388.5,497.1 1389.6,497.4 1390.8,497.6 1391.9,496.6 1393.1,497.3 1394.2,497.4 1395.3,496.9 1396.4,497.4 1397.6,497.2 1398.7,497.9 1399.7,497.7 1400.9,498.1 1401.9,498.1 1403,497.8 1404.1,498.1 1405.2,497.7 1406.2,498.7 1407.3,498.2 1408.4,498.6 1409.4,499.1 1410.5,498.8 1411.5,499.6 1412.5,499.3 1413.6,499.2 1414.6,498.8 1415.6,499 1416.7,499 1417.7,499.6 1418.7,499.5 1419.6,499.4 1420.7,499.5 1421.7,499.8 1422.7,499.5 1423.7,500.6 1424.6,500.4 1425.6,500.3 1426.6,500.3 1427.6,501.1 1428.5,501.1 1429.5,500.7 1430.4,501.1 1431.4,500.8 1432.3,501.1 1433.2,501.6 1434.2,501.3 1435.2,501.5 1436.1,501.8 1437,501.1 1437.9,502 1438.8,502.6 1439.8,501.7 1440.6,501.3 1441.6,502.4 1442.4,502.4 1443.4,502.3 1444.3,502.7 1445.1,502.8 1446,502.8 1446.9,502.8 1447.8,502.8 1448.7,503.1 1449.5,503.3 1450.5,502.9 1451.3,503 1452.2,502.8 1453,503 1453.9,503.5 1454.7,504 1455.6,503.9 1456.4,503.1 1457.3,503.7 1458.1,504.5 1459,503.8 1459.8,503.8 1460.6,503.9 1461.5,504.8 1462.3,504.6 1463.1,503.8 1463.9,504.5 1464.7,504.2 1465.5,504.1 1466.3,504.3 1467.2,504.9 1468,504.4 1468.8,504.7 1469.6,505.3 1470.3,505 1471.1,505.7 1471.9,504.9 1472.7,505.1 1473.5,505.7 1474.3,505.5 1475,505.7 1475.8,505.9 1476.6,506.1 1477.4,505.6 1478.5,506.1 1479.7,506 1480.8,506.1 1481.9,505.8 1483.1,506.1 1484.2,506.9 1485.3,507 1486.4,506.9 1487.5,507.1 1488.6,506.5 1489.7,506.6 1490.7,507.3 1491.8,507.4 1492.9,506.9 1494,507.5 1495,507.1 1496.1,506.8 1497.2,507 1498.2,507.9 1499.2,508.1 1500.3,507.9 1501.3,507.9 1502.3,508.3 1503.4,508.3 1504.4,508.1 1505.4,507.9 1506.4,507.4 1507.4,508.3 1508.4,508.3 1509.4,508.7 1510.4,508.1 1511.4,509 1512.4,508.4 1513.3,508.6 1514.3,509.1 1515.3,509.3 1516.2,508.8 1517.2,508.8 1518.2,508.9 1519.1,509.3 1520.1,509.2 1521,509.5 1521.9,510 1522.9,509.8 1523.8,509.5 1524.7,509.8 1525.6,508.9 1526.6,509.4 1527.5,510.1 1528.4,509.8 1529.3,509.6 1530.2,510.2 1531.1,510.9 1532,510.3 1532.9,509.7 1533.8,510.1 1534.7,510.9 1535.5,510.9 1536.4,511.1 1537.3,510.6 1538.2,510.4 1539,511 1539.9,511 1540.8,511.1 1541.6,511.1 1542.5,511 1543.3,511.7 1544.2,511 1545,511.4 1545.9,510.9 1546.7,511.3 1547.5,511.4 1548.3,511.6 1549.2,511 1550,512 1550.8,511.4 1551.6,511.3 1552.5,512 1553.3,511.5 1554.1,511.8 1554.9,511.7 1555.7,511.4 1556.5,511.9 1557.3,511.6 1558.1,512.2 1558.9,512.3 1559.7,512.2 1560.4,512.4 1561.2,512.8 1562,511.2 1562.8,512.5 1563.6,512.4 1564.3,512.1 1565.1,512 1565.9,511.8 1566.6,512.2 1567.6,512.2 1568.6,512.5 1569.4,512.7 1570.4,512.2 1571.4,512.9 1572.4,512.6 1573.1,512.6 1574.1,512.5 1575.1,513.3 1576,512.9 1576.8,512.8 1577.8,512.9 1578.7,512.5 1579.7,512.7 1580.6,512.7 1581.6,513 1582.5,513.3 1583.5,513.4 1584.4,513.4 1585.3,513.2 1586.3,514.2 1587.2,513.5 1588.1,513.1 1589,513.5 1590,514 1590.9,513.2 1591.8,513.4 1592.7,513.6 1593.6,513.4 1594.5,513.9 1595.3,513.7 1596.2,514.2 1597.1,514.1 1598,514.2 1598.9,513.9 1599.8,514 1600.6,513.6 1601.5,514.1 1602.4,514 1603.2,514 1604.1,514.2 1604.9,514.1 1605.8,513.7 1606.6,514.2 1607.5,514.3 1608.3,514.5 1609.1,514.5 1610,514.2 1610.8,514.1 1611.6,514 1612.5,514.4 1613.3,514.3 1614.1,514.3 1614.9,514.1 1615.7,513.7 1616.5,513.9 1617.3,514.8 1618.1,514.4 1618.9,513.9 1619.7,514.5 1620.5,514.6 1621.3,514.3 1622.1,514.3 1622.9,514.6 1623.7,514.2 1624.4,514.4 1625.2,513.9 1626,514.2 1627,513.9 1627.7,514.2 1628.5,514.2 1629.4,514.2 1630.2,514.7 1631,514.6 1631.9,514.6 1632.6,514.7 1633.4,514.1 1634.3,514.4 1635.1,514.5 1636,513.7 1636.9,514.7 1637.8,514 1638.7,514.5 1639.6,514.5 1640.5,515 1641.5,514.3 1642.3,514.3 1643.2,514.4 1644.1,514.5 1645,514.8 1645.9,513.5 1646.8,513.7 1647.6,514.8 1648.5,514 1649.4,514.4 1650.2,514.5 1651.1,514.3 1652,514.6 1652.8,514.6 1653.7,515 1654.5,513.9 1655.4,514.3 1656.2,514.4 1657,514.9 1657.9,515 1658.7,514.9 1659.5,514 1660.3,514.7 1661.2,514.2 1662,514.9 1662.8,514.2 1663.6,515.3 1664.4,514.6 1665.2,514.5 1666,515.6 1666.8,515.2 1667.7,515 1668.4,515.1 1669.2,515.6 1670,515.9 1670.8,515.3 1671.6,515.5 1672.4,515.7 1673.2,515.6 1673.9,515.4 1674.7,515.6 1675.5,515.9 1676.2,515.5 1677,516.7 1677.8,516.2 1678.7,516.1 1679.4,517 1680.3,516 1681.2,517 1682.1,516.9 1683,516.5 1683.9,517.1 1684.8,517.2 1685.7,517.4 1686.5,517 1687.4,516.8 1688.3,517.2 1689.1,517.2 1690,516.8 1690.9,516.8 1691.7,516.9 1692.6,517.3 1693.4,516.5 1694.3,517.7 1695.1,517.2 1696,517.2 1696.8,517 1697.6,517.2 1698.5,517 1699.3,517.6 1700.1,517.3 1700.9,517.7 1701.7,517.4 1702.6,516.9 1703.4,518.5 1704.2,517.6 1705,517 1705.8,518.5 1706.6,517.8 1707.4,517.5 1708.2,517.5 1709,517.5 1709.8,517.7 1710.5,518.2 1711.3,517.8 1712.1,517.6 1712.9,517.8 1713.7,518.2 1714.4,518.2 1715.2,517.2 1715.9,518.3 1716.7,517.4 1717.5,517.5 1718.2,517.8 1719,518.1 1719.8,518.5 1720.6,517.7 1721.4,517.9 1722.1,518.2 1723,517.7 1723.8,518 1724.7,517.7 1725.5,518.1 1726,518.3 1726.2,518.1 1726.3,518.4 1726.4,518.6 1726.5,518.2 1726.6,518.3" fill="none" stroke="none" marker-start="url(#m2)" marker-mid="url(#m2)" marker-end="url(#m2)"/>
<polyline points="257.5,292.2 351.4,322 409.5,330 455.6,340.7 494.3,348.1 530.6,354.2 556.7,357.3 582,357.9 607.7,369.4 627.6,375.2 645,378.8 661.4,379.6 679.2,382.7 693.3,384.1 707,386.4 719.3,387 732.4,388.6 743.9,390.3 755.2,391.8 765.4,393.3 776.2,393.9 785.1,396.3 793.2,396.8 802.7,397.6 810.8,399 819,400.6 827.1,401.2 834.9,401.6 841.9,403.2 849,403.9 856.5,406.1 863.1,406.6 869.6,407.4 876,408.8 881.9,409.6 888.2,411 894,411.8 899.6,412.5 905.2,413.2 910.1,414.4 915.7,414.8 920.5,415.9 925.5,416.9 930.1,417.8 935.2,418.9 940,419.3 944.3,420.1 948.6,420.4 953.3,422 957.4,421.2 961.9,421.9 965.8,423.5 969.6,423.6 973.6,424.2 977.7,424.8 981.5,424.8 985.4,425.5 989,425.7 992.8,427.1 996.4,427.1 999.6,427.4 1003.1,427.8 1006.7,428.9 1009.8,427.8 1013.4,429.2 1016.4,430 1019.7,430.3 1022.9,430.5 1026.1,431 1028.8,430.9 1032.1,431.3 1035,431.9 1038.1,431.9 1040.8,432.5 1043.6,432.7 1046.5,433.2 1049.4,433.2 1051.9,433.1 1054.7,433.7 1057.5,433.8 1060.3,434.5 1062.9,434.8 1065.2,435 1067.9,434.6 1070.6,434.8 1073.1,436.2 1075.5,436.4 1077.9,436.7 1080.2,436.5 1082.6,437.1 1085.1,437.4 1087.5,437.4 1089.9,437.6 1091.9,437.8 1094.2,438.9 1096.6,438.8 1098.8,438.5 1100.8,438.7 1103.2,439 1105.3,439.8 1107.4,440 1109.4,440.3 1111.7,440.6 1113.7,440.1 1115.7,441.7 1117.7,440.6 1119.7,441.2 1121.7,440.7 1123.8,441.3 1125.6,441.6 1127.6,441.9 1129.6,442.6 1131.4,442.4 1133.4,442.6 1135.2,442.2 1137,442.7 1138.9,443.3 1140.7,443 1142.5,442.7 1144.3,443.6 1146.2,442.7 1147.8,443.9 1149.5,443.8 1151.5,443.6 1153.1,443.6 1154.8,444.2 1156.6,444.4 1158.2,444.1 1159.8,444.3 1161.5,445 1163.2,444.7 1164.9,444 1166.4,444.6 1168,444.8 1169.7,445.4 1171.2,445.4 1172.7,445.2 1174.4,444.9 1176,445.4 1177.5,445.6 1179,445.6 1180.5,445.4 1181.9,445.4 1183.5,446.1 1184.9,445.5 1186.4,446.4 1187.9,445.9 1189.4,446.8 1190.8,446 1192.3,446.7 1193.7,446.7 1195.1,447 1196.5,447.2 1197.8,447.1 1199.4,447 1200.7,447 1202.1,446.9 1203.4,447 1204.8,447.3 1206.1,446.9 1207.5,446.9 1208.8,448 1210.1,447.8 1211.5,447.4 1212.8,447.6 1214,448.1 1215.4,447.8 1216.6,447.6 1217.9,448.4 1219.2,448 1220.5,448.5 1221.6,448.4 1223,448.6 1224.1,448.2 1225.4,449.3 1226.7,448.4 1227.8,448.7 1229.1,448.6 1230.3,448.6 1231.5,448.3 1232.7,448.9 1233.8,448.8 1235,448.8 1236.2,448.7 1237.4,448.9 1238.5,448.8 1239.6,449.5 1240.8,450.4 1242,449.6 1243.1,449.8 1244.2,450.1 1245.4,449.3 1246.5,449.2 1247.5,449.9 1248.7,449.4 1249.8,449.8 1250.9,450.2 1251.9,450.3 1253.1,449.6 1254.1,450.1 1255.2,450 1256.3,449.8 1257.3,450.1 1258.4,450.1 1259.5,450.1 1260.6,450.7 1261.5,450.4 1262.5,450.4 1263.6,450.7 1264.7,450.7 1265.6,450.4 1266.7,451.4 1267.7,451 1268.7,451.3 1269.7,450.8 1270.7,450.6 1271.8,450.8 1272.7,451.1 1273.7,451.2 1274.7,451.1 1275.6,451.1 1276.7,451 1277.6,451.7 1278.5,451.3 1279.5,451.4 1280.5,451.8 1281.5,452.1 1282.4,451.8 1283.3,450.9 1284.2,452 1285.2,451.2 1286.1,452 1287,452.2 1288,452 1288.9,451.7 1289.7,452.3 1290.6,452.2 1291.7,451.9 1292.5,452.5 1293.4,452 1294.3,452 1295.2,452.3 1296.1,452.8 1296.9,452.7 1297.9,452.8 1298.7,453.3 1299.6,452.8 1300.5,453 1301.3,452.7 1302.2,452.1 1303.1,452.9 1303.9,452.3 1304.7,452.9 1305.7,452.7 1306.5,452.9 1307.3,452.7 1308.2,452.6 1309,453 1309.8,452.6 1310.6,452.5 1311.5,452.7 1312.3,452.7 1313.1,452.6 1314,452.8 1314.8,452.4 1315.5,453 1316.3,453 1317.2,452.8 1318,452.7 1319.6,453.1 1320.4,453.2 1321.2,453 1322,453.7 1322.7,452.7 1323.5,452.8 1325.1,453.4 1325.9,453 1327.4,453.4 1328.9,452.9 1330.4,453.6 1331.2,453.6 1332,454 1333.5,453.1 1334.9,454 1335.7,453.2 1337.1,453.2 1338.6,453.5 1340.1,452.8 1341.5,453.2 1343,453.6 1344.3,454 1345.8,452.9 1347.2,453.5 1348.6,453.7 1349.9,454.2 1351.3,454 1352.7,454 1354.1,453.7 1355.4,453.8 1356.7,454.1 1358.1,454.6 1359.4,453.9 1360.7,454 1362,454.1 1363.4,454 1364.7,453.9 1365.9,454 1367.2,454.3 1368.5,453.8 1369.8,454.3 1371,454.8 1372.3,454.5 1373.5,454.2 1374.8,454.4 1376,453.9 1377.2,454.1 1378.4,455.1 1379.6,454 1380.8,455 1382,455 1383.2,454.7 1384.4,454.8 1385.6,455 1386.7,454 1387.9,454.6 1389.1,454.8 1390.2,454.8 1391.4,454.9 1392.5,455.1 1393.7,455.3 1394.8,455.6 1395.9,454.9 1397,455.5 1398.1,454.9 1399.2,455.5 1400.3,455.1 1401.4,455.1 1402.5,455.7 1403.5,455.5 1404.7,455.6 1405.7,455.7 1406.8,456.1 1407.8,455.7 1408.9,455.9 1409.9,456 1411,456.6 1412,456 1413.1,456.7 1414.1,456.5 1415.1,456.5 1416.2,456 1417.2,456.1 1418.2,456.6 1419.2,457.4 1420.2,456 1421.2,457 1422.1,457.1 1423.1,457.3 1424.1,457.4 1425.1,456.3 1426.1,457.4 1427.1,457 1428,457.3 1429,457.3 1430,457.4 1430.9,457.9 1431.8,457.4 1432.8,457.8 1433.7,457.5 1434.6,457.7 1435.6,457.7 1436.5,458.2 1437.4,458.1 1438.4,458.5 1439.3,458.8 1440.2,458.6 1441.1,459.2 1442,458.4 1442.9,458.9 1443.8,459.7 1444.7,459.5 1445.6,459.4 1446.5,459.3 1447.4,458.8 1448.3,459.8 1449.1,459.7 1450,459.3 1450.9,459.9 1451.7,460.7 1452.6,459.7 1453.5,460.1 1454.3,460.2 1455.2,460.5 1456,460.8 1456.9,460 1457.7,461.2 1458.5,460.8 1459.4,461.5 1460.2,461.5 1461,461.2 1461.8,461 1462.7,461 1463.5,461.3 1464.3,461.5 1465.1,461.7 1465.9,461.7 1466.7,462 1467.6,461.9 1468.4,462.5 1469.2,462.2 1469.9,463.2 1470.8,462.8 1471.6,462.2 1472.3,462.7 1473.1,462.6 1473.9,463.2 1474.7,463.1 1475.4,462.6 1476.2,463 1477,463.7 1477.7,463.8 1478.5,464.1 1479.6,462.8 1480.4,463.9 1481.2,463.8 1482.3,464 1483.1,464.1 1484.2,464.4 1485.3,463.8 1486,464.5 1487.1,465.3 1488.2,464.5 1489.3,464.5 1490.4,465.6 1491.5,465.3 1492.5,465.1 1493.6,465.7 1494.7,464.9 1495.7,465.5 1496.8,465.7 1497.8,465.2 1498.9,466.4 1499.9,465.9 1501,465.5 1502,466.6 1503,465.7 1504.1,466.4 1505,466.5 1506,466.8 1507.1,466.5 1508.1,466.4 1509.1,466.7 1510.1,466.7 1511,467.2 1512,467.1 1513,467.3 1514,467.5 1515,467.5 1515.9,467.2 1516.9,467.7 1517.8,467.3 1518.8,467.8 1519.7,467.6 1520.7,468.3 1521.6,468.2 1522.5,467.8 1523.5,467.8 1524.4,468.8 1525.3,468.2 1526.3,468.3 1527.2,468.9 1528.1,469 1529,469.1 1529.9,468.7 1530.8,468.7 1531.7,468.5 1532.6,468.9 1533.5,469.1 1534.4,468.8 1535.3,469.9 1536.1,469.8 1537,469.7 1537.9,469.6 1538.7,469.8 1539.6,470.1 1540.5,469.5 1541.3,470.3 1542.2,470 1543,470.6 1543.9,470 1544.7,470.4 1545.6,470.5 1546.4,470.4 1547.2,470.2 1548.1,470.9 1548.9,470.2 1549.7,470.8 1550.6,471.1 1551.4,471 1552.2,471.8 1553,470.8 1553.8,471.2 1554.6,470.7 1555.4,471.5 1556.2,471.7 1557,471 1557.8,471.6 1558.6,471.8 1559.4,471.2 1560.2,471.4 1561,472.3 1561.8,472.1 1562.5,471.8 1563.3,471.3 1564.1,472 1564.8,472.2 1565.6,472.1 1566.4,472.1 1567.4,472.4 1568.4,472 1569.1,472.6 1569.9,471.9 1570.9,472.4 1571.7,472.8 1572.6,472.4 1573.6,471.4 1574.4,472.8 1575.3,472.5 1576.1,473.4 1577,472.9 1578,473.1 1579,472.1 1579.9,473.2 1580.9,472.9 1581.8,473.2 1582.8,472.9 1583.7,472.6 1584.6,474.2 1585.6,473.1 1586.5,473.4 1587.4,473.7 1588.3,473.4 1589.3,473.9 1590.2,473.9 1591.1,473.6 1592,473.9 1592.9,474.4 1593.8,474.2 1594.7,474.2 1595.6,475 1596.5,474.2 1597.4,474.6 1598.2,474.4 1599.1,474.6 1600,474.5 1600.8,474.9 1601.7,474.5 1602.6,475.2 1603.4,474.8 1604.3,474.8 1605.1,475 1606,474.5 1606.8,475.1 1607.7,475.3 1608.5,475.9 1609.4,475.4 1610.2,475.4 1611,475.8 1611.8,475.9 1612.6,475.7 1613.5,476 1614.3,475.4 1615.1,475.5 1615.9,476.7 1616.7,476.3 1617.5,476.6 1618.3,475.5 1619.1,475.7 1619.9,476.6 1620.7,477 1621.5,476.5 1622.3,477.1 1623.1,476.8 1623.9,476.3 1624.6,476.7 1625.4,476.9 1626.2,476.8 1626.9,476.4 1627.7,477 1628.5,477.9 1629.2,477.9 1630,478 1630.8,477.5 1631.5,477.5 1632.5,478.2 1633.4,478.2 1634.3,477.3 1635.2,478.1 1636.2,478 1637.1,478.2 1638,479 1638.9,478.3 1639.8,479.1 1640.7,478.6 1641.6,478.6 1642.5,478.8 1643.4,478.7 1644.3,478.6 1645.2,479.4 1646.1,479.6 1646.9,479 1647.8,478.8 1648.7,479.3 1649.6,479.5 1650.4,479.9 1651.3,479.5 1652.1,479.5 1653,479.9 1653.8,479.8 1654.7,480 1655.5,479.8 1656.4,480.3 1657.2,480.3 1658,480.5 1658.9,479.9 1659.7,479.9 1660.5,480.4 1661.3,481 1662.2,481.4 1663,481 1663.8,481.5 1664.6,481.9 1665.4,482.2 1666.2,482.5 1667,482.8 1667.8,482.6 1668.6,482.5 1669.4,483.5 1670.2,482.7 1671,483 1671.7,483.3 1672.5,483.5 1673.3,483.8 1674.1,484 1674.8,484.2 1675.6,483.5 1676.4,484.1 1677.1,484.9 1677.9,484.2 1678.8,485.2 1679.6,485.7 1680.3,485.3 1681.2,485.4 1682,486.1 1682.9,486.3 1683.8,486.6 1684.6,486.5 1685.5,486.7 1686.4,487.1 1687.3,487.1 1688.1,487.1 1689,486.4 1689.9,487.3 1690.7,487.1 1691.6,486.5 1692.4,486.7 1693.3,487.8 1694.1,487.1 1695,487.1 1695.8,487 1696.7,486.7 1697.5,486.2 1698.3,486.7 1699.1,487.6 1700,486.9 1700.8,486.7 1701.6,487.1 1702.4,486.7 1703.2,487 1704.1,486.6 1704.8,486.7 1705.7,486.9 1706.5,486.3 1707.3,487.1 1708,486.7 1708.8,486.8 1709.6,486.4 1710.4,487.2 1711.2,486.8 1712,486.8 1712.7,485.9 1713.5,486.5 1714.3,486 1715.1,485.9 1715.8,486.6 1716.6,485.6 1717.4,485.7 1718.1,485.7 1719,485.3 1719.9,485.2 1720.6,485.1 1721.5,484.9 1722.4,485.3 1723.2,485 1724.1,484 1724.9,484.4 1725.8,484.2 1726,484.4 1726.2,484.6 1726.3,484.9 1726.4,484.7 1726.5,484.3 1726.6,484.6" fill="none" stroke="none" marker-start="url(#m3)" marker-mid="url(#m3)" marker-end="url(#m3)"/>
<polyline points="351.4,287.6 409.5,307.5 455.6,315 494.3,315.4 530.6,321.5 556.7,327 582,331 607.7,335.6 627.6,338.7 645,340.2 661.4,342.6 679.2,345.7 693.3,346.1 707,346.8 719.3,348.2 732.4,358.1 743.9,359.4 755.2,360.3 765.4,361.3 776.2,362.2 785.1,363.3 793.2,363.9 802.7,364.3 810.8,365.4 819,366 827.1,367.3 834.9,367.7 841.9,368.7 849,369.5 856.7,370.9 863.4,371 870,371.8 875.7,372.9 882.3,373.7 888,374.5 893.8,376 899.2,376.3 905.2,377.3 910.5,377.3 915.4,378.9 920.5,379.8 925.4,380.2 930.6,380.6 934.9,381.3 939.6,382.7 944.5,382.7 948.8,383.7 953,384.3 957.7,383.8 961.5,385.5 965.9,385.8 969.8,387.3 973.9,386.6 977.6,387.2 981.4,388 985.4,388.3 989,389.1 992.8,389.4 996.1,389.8 999.6,390.5 1003.1,390.6 1006.7,391.3 1010.1,392.2 1013.1,391.8 1016.4,392.6 1019.7,392.6 1022.8,393.8 1026,393.3 1029,393.9 1031.9,394.2 1034.8,394.9 1038.1,394.6 1040.9,395.2 1043.6,395.9 1046.4,396.2 1049.5,395.2 1052.2,396.4 1054.8,396.5 1057.6,397.3 1060.2,397 1062.9,396.4 1065.4,397.7 1068,397.6 1070.4,399.2 1073,398.1 1075.5,399.1 1078,399.3 1080.2,399.3 1082.8,399.2 1085,399.2 1087.3,399.6 1089.8,399.9 1091.9,400.3 1094.3,400.5 1096.4,400.5 1098.7,400.7 1101,400.9 1103.2,401 1105.2,401.9 1107.4,401.6 1109.5,401.7 1111.5,402.6 1113.8,402.3 1115.7,402.6 1117.8,403.3 1119.7,402.7 1121.8,402.5 1123.7,403.9 1125.7,403.2 1127.7,403.8 1129.5,403.6 1131.4,403.5 1133.3,403.9 1135.3,404.5 1137,404.2 1139,404.3 1140.7,404.8 1142.4,404.8 1144.3,404.4 1146.2,404.5 1147.8,405.3 1149.6,405.6 1151.4,404.8 1153.2,405.4 1154.7,405.6 1156.5,405.3 1158.2,405.6 1159.8,405.6 1161.4,405.7 1163.2,406.3 1164.8,406.8 1166.4,406.1 1168,406.6 1169.7,406.4 1171.2,407.2 1172.7,407.3 1174.3,407.7 1175.8,407.4 1177.4,407.3 1178.9,407 1180.4,407.5 1182.1,407.7 1183.5,407.4 1185,408.5 1186.5,408.5 1187.9,409.1 1189.4,408.3 1190.8,408.2 1192.2,409.3 1193.6,409.5 1195.1,409.3 1196.5,409.4 1197.9,410 1199.4,409.9 1200.6,409.6 1202.1,409.9 1203.5,410.3 1204.8,410.2 1206.2,410.6 1207.5,410.2 1208.8,411 1210.1,410.5 1211.5,410.8 1212.8,411.2 1214,411.2 1215.3,410.9 1216.6,411.3 1218,411.1 1219.1,411.3 1220.5,412.3 1221.7,411.8 1222.9,411.9 1224.2,412.3 1225.4,412.5 1226.6,411.7 1227.9,412.5 1229,412.7 1230.3,412.9 1231.4,412.7 1232.7,413.3 1233.9,413.8 1235,412.7 1236.2,413.3 1237.4,413.7 1238.5,413.7 1239.7,413.1 1240.8,413.4 1241.9,413.7 1243.1,414 1244.2,414.4 1245.4,414.1 1246.5,414.3 1247.5,415.3 1248.7,414.9 1249.8,415.3 1250.9,415.2 1252,415.3 1253.1,415.1 1254.1,415.2 1255.3,415.4 1256.2,415.3 1257.3,415.7 1258.5,415.4 1259.4,415.8 1260.5,415.8 1261.6,415.8 1262.6,415.3 1263.7,416.4 1264.7,416.1 1265.7,416.5 1266.7,416.8 1267.7,416.9 1268.7,416.5 1269.7,416.7 1270.7,417.6 1271.8,417.1 1272.7,416.6 1273.6,417.6 1274.7,417.7 1275.7,417.2 1276.6,418.3 1277.6,418.1 1278.6,417.3 1279.5,417.9 1280.4,418 1281.4,417.7 1282.3,417.9 1283.3,418.1 1284.2,418.2 1285.2,418.8 1286,418.5 1287,418.2 1287.9,418.3 1288.9,419.3 1289.8,418.7 1290.7,418.6 1291.6,419.3 1292.5,419.2 1293.4,419.4 1294.3,419.5 1295.1,419.3 1296.1,419.5 1297,419.4 1297.9,419.8 1298.7,419.4 1299.6,420.2 1300.5,419.7 1301.4,419.8 1302.2,419.4 1303,419.9 1303.9,419.7 1304.7,419.9 1305.6,420.1 1306.4,420 1307.4,420.6 1308.2,420.1 1309,420.4 1309.9,420.1 1310.6,420.5 1311.4,420.7 1312.3,420.9 1313.1,420.4 1313.9,421.1 1314.8,420.5 1315.6,421.1 1316.4,421 1317.2,421 1318,421.2 1318.8,420.9 1319.5,421.5 1320.4,421.4 1321.2,421.8 1322.8,421.7 1323.6,421.9 1325.1,421.7 1325.8,421.7 1326.7,422.4 1328.1,422.3 1328.9,421.7 1330.4,422.3 1331.2,422.7 1332,422.3 1333.4,422.4 1334.2,422.4 1335.7,422.1 1336.4,421.9 1337.9,423 1339.3,422.4 1340.8,423 1342.2,423.7 1343.6,423.1 1345.1,423 1346.5,423.6 1347.8,423.2 1349.2,423.2 1350.6,423.6 1352,423.6 1353.4,423.2 1354.7,424.1 1356.1,423.8 1357.4,423.8 1358.8,424.5 1360.1,424.2 1361.4,425 1362.7,424.4 1364,425.6 1365.3,425.1 1366.6,425.6 1367.9,425 1369.1,425.1 1370.4,425.9 1371.7,425.4 1372.9,425.5 1374.1,425.9 1375.4,426.7 1376.6,426 1377.8,426.5 1379.1,425.8 1380.2,426.5 1381.5,426.5 1382.6,427 1383.8,427.4 1385,427.4 1386.2,426.9 1387.3,426.8 1388.5,427 1389.6,427.8 1390.8,428.1 1391.9,427.4 1393.1,427.8 1394.2,428.3 1395.3,427.8 1396.4,427.8 1397.5,428.2 1398.7,427.8 1399.8,428.8 1400.9,427.8 1402,428.8 1403,428.8 1404.1,429 1405.2,429.5 1406.3,429.8 1407.3,430.3 1408.4,429.7 1409.4,429.7 1410.5,430.4 1411.5,429.7 1412.5,430.4 1413.6,430.2 1414.6,431.4 1415.6,431.2 1416.7,431.4 1417.7,431.2 1418.7,431.5 1419.7,432.2 1420.7,432.2 1421.7,431.7 1422.6,432.4 1423.6,432 1424.6,432.6 1425.6,432.2 1426.6,432.7 1427.5,432.7 1428.5,432.8 1429.5,433.5 1430.4,433.4 1431.4,433.8 1432.3,433.9 1433.3,434.3 1434.2,433.9 1435.1,434.3 1436,435.1 1437,434.3 1437.9,434.1 1438.8,435 1439.7,434.4 1440.7,434.8 1441.6,434.3 1442.5,435 1443.3,434.5 1444.3,434.9 1445.1,435.4 1446.1,434.6 1446.9,435.3 1447.8,435.1 1448.7,436.1 1449.6,436.1 1450.4,435.9 1451.3,435.9 1452.2,436 1453,435.8 1453.9,436.1 1454.7,436.5 1455.6,435.7 1456.4,436.1 1457.3,436.6 1458.1,436.2 1459,436.5 1459.8,436.3 1460.6,436.3 1461.5,437.5 1462.3,436.8 1463.1,437.1 1463.9,437.1 1464.7,436.7 1465.5,437.2 1466.4,437.7 1467.2,437.5 1468,437.5 1468.7,437.7 1469.5,437.5 1470.3,437.3 1471.1,437.6 1471.9,438.3 1472.7,438.3 1473.5,438.2 1474.3,438.5 1475.1,438.6 1475.8,438.2 1476.6,438.5 1477.4,438.4 1478.1,438.4 1478.9,438.2 1480.1,439 1481.2,439 1481.9,438.5 1483,439.2 1483.8,439 1484.9,438.7 1485.7,439.6 1486.8,439.6 1487.9,438.8 1488.9,439.3 1490,439.7 1491.1,440.1 1492.2,439.9 1493.3,439.7 1494.3,440.6 1495.4,439.7 1496.4,440.6 1497.5,440.7 1498.5,439.4 1499.6,440.1 1500.6,440.2 1501.7,440.2 1502.7,440.9 1503.7,440.2 1504.7,440.1 1505.7,440.6 1506.7,440.8 1507.8,440.6 1508.7,440.7 1509.7,441.1 1510.7,440.9 1511.7,441.2 1512.7,439.9 1513.6,441.5 1514.6,441.7 1515.6,441.4 1516.6,441.4 1517.5,441.4 1518.5,441.1 1519.4,441.2 1520.3,441.5 1521.3,441.2 1522.3,441.4 1523.2,441.3 1524.1,441.5 1525,441.2 1526,441 1526.9,441 1527.8,441.1 1528.7,441.4 1529.6,441.7 1530.5,442.2 1531.4,442.3 1532.3,441.6 1533.2,441.8 1534.1,441.3 1534.9,442.1 1535.8,442.3 1536.7,442.6 1537.6,442.7 1538.5,442.5 1539.3,442 1540.2,442.2 1541.1,441.9 1541.9,442.3 1542.7,442.8 1543.6,442.3 1544.5,443 1545.3,442.7 1546.1,443 1547,442.9 1547.8,443.2 1548.6,442.7 1549.5,442.6 1550.3,443.2 1551.1,442.6 1551.9,443.2 1552.7,442.5 1553.5,443.1 1554.3,443.4 1555.2,442.7 1556,442.8 1556.7,443.2 1557.5,442.9 1558.3,443.7 1559.1,443.1 1559.9,443.5 1560.7,443 1561.5,443.1 1562.3,443 1563,443.2 1563.8,442.3 1564.6,442.9 1565.6,443.6 1566.4,443.3 1567.1,443.4 1567.9,443.5 1568.7,443.2 1569.6,443.1 1570.4,443 1571.2,443 1572.1,442.8 1573.1,443.2 1573.9,443.8 1574.8,443.6 1575.8,443.5 1576.8,443.6 1577.8,443.2 1578.7,443.7 1579.7,443.6 1580.6,443.8 1581.6,443.9 1582.5,442.9 1583.5,443.8 1584.4,444.4 1585.3,444.2 1586.3,443.6 1587.2,443 1588.1,443.7 1589,444.3 1590,443.9 1590.9,444.1 1591.8,443.8 1592.7,444.2 1593.6,444.6 1594.5,444.4 1595.3,444.2 1596.2,444.2 1597.1,443.8 1598,444.1 1598.9,443.6 1599.8,443.9 1600.6,444 1601.5,444.3 1602.4,443.8 1603.2,444.2 1604.1,443.9 1604.9,444.4 1605.8,444.3 1606.6,444.4 1607.5,444.6 1608.3,443.9 1609.1,444.6 1610,444.7 1610.8,444.4 1611.6,444 1612.4,444.6 1613.3,444.4 1614.1,444.2 1614.9,444 1615.7,444.4 1616.5,445.6 1617.3,444.5 1618.1,444.7 1618.9,444.5 1619.7,444.5 1620.5,444.5 1621.3,444.6 1622.1,444.4 1622.9,444.2 1623.7,444.8 1624.4,444.7 1625.2,444 1626,444.2 1626.7,445.5 1627.5,444.8 1628.3,445.5 1629.1,444.7 1629.8,445.2 1630.6,444.6 1631.5,444.7 1632.3,444.5 1633.2,444.6 1634.1,444.9 1635.1,444.6 1636,444.7 1636.9,445.4 1637.8,444.4 1638.7,445.1 1639.6,445.2 1640.5,445.5 1641.4,445.1 1642.3,444.7 1643.2,444.4 1644.1,445.1 1645,445.3 1645.9,445.3 1646.8,445.2 1647.6,446.1 1648.5,444.9 1649.4,445.3 1650.3,445.2 1651.1,445.1 1652,445.4 1652.8,445.8 1653.7,445.2 1654.5,445.5 1655.4,445.2 1656.2,445.8 1657,445.3 1657.9,445.5 1658.7,445.3 1659.5,445.5 1660.4,445.5 1661.2,445.1 1662,445.7 1662.8,445.8 1663.6,445.8 1664.4,445.4 1665.2,445.6 1666.1,445.4 1666.8,445.3 1667.6,445.4 1668.4,445.5 1669.2,445.5 1670,446 1670.8,445.5 1671.6,446.3 1672.4,445.8 1673.2,445.9 1673.9,446.6 1674.7,446.5 1675.5,445.7 1676.2,445.6 1677,445.3 1677.7,445.8 1678.5,445.3 1679.3,445.6 1680,445.6 1680.9,445.2 1681.8,445.7 1682.7,445.4 1683.6,445.9 1684.5,445.6 1685.4,445.5 1686.2,445.8 1687.1,445.2 1688,445.6 1688.9,445.9 1689.7,445.3 1690.6,445.4 1691.4,445.2 1692.3,445.7 1693.1,445.7 1694,446.3 1694.8,445.7 1695.7,445.5 1696.5,445.7 1697.4,445.7 1698.2,446.3 1699,445.6 1699.8,445.2 1700.7,445.9 1701.5,445.2 1702.3,445.7 1703.1,446.2 1703.9,445 1704.7,445.6 1705.5,445.4 1706.3,446.2 1707.1,445.7 1707.9,445.9 1708.7,445.3 1709.5,445.7 1710.3,445.5 1711.1,445.5 1711.8,445.3 1712.6,445.1 1713.4,446.1 1714.2,446.2 1714.9,445.3 1715.7,445.4 1716.5,445.4 1717.2,445.8 1718.1,445.6 1718.9,445.7 1719.6,445.8 1720.5,445.5 1721.4,445.6 1722.2,445.7 1723.1,446 1724,445.6 1724.8,445.2 1725.7,445.7 1726,446 1726.2,445.2 1726.3,445.2 1726.4,445.5 1726.5,444.9" fill="none" stroke="none" marker-start="url(#m4)" marker-mid="url(#m4)" marker-end="url(#m4)"/>
<polyline points="257.5,116.4 351.4,249.5 409.5,267 455.6,276.4 494.3,299.8 530.6,301 556.7,304.8 582,304.5 607.7,304.9 627.6,313.2 645,313.6 661.4,316.3 679.2,320.3 693.3,323.5 707,324.8 719.3,325.2 732.4,326.5 743.9,327.5 755.2,328 765.4,328.4 776.2,333.3 785.1,334.9 793.2,334.1 802.7,335.7 810.8,336.6 819,336.5 827.1,337.6 834.9,338.4 841.9,338.9 849,340 857,339.8 863.3,340.4 869.7,341.1 876.1,341.7 882.2,342.2 887.7,343 893.9,343.3 899.5,344 904.8,344.8 910,344.8 915.6,345.5 920.8,345.6 925.5,346.3 930.1,346.8 934.9,346.8 939.7,348.2 944.1,348.7 949,349.5 953,349.6 957.5,349.7 961.8,349.6 965.6,350.7 969.6,350.9 973.8,351.8 977.8,352.2 981.5,352.9 985.1,352.8 989.1,353.9 992.5,354.2 996,354.6 999.5,355.3 1003.3,355.6 1006.4,356.1 1010,355.3 1013.4,356.1 1016.4,356.9 1019.8,356.8 1022.7,357.7 1025.9,357.5 1028.9,358.1 1032.2,357.9 1035.2,358.5 1037.8,358.2 1041,359.1 1043.6,359.2 1046.4,359.8 1049.4,360.6 1052.2,359.7 1054.7,361.2 1057.4,360.5 1060.2,361.1 1062.9,361.2 1065.4,361.1 1067.9,361.3 1070.4,361.7 1073.1,362.3 1075.3,361.7 1077.8,362.5 1080.3,362.1 1082.8,362.7 1085.1,363.2 1087.3,362.9 1089.7,363.9 1092.1,363.6 1094.3,363.8 1096.6,363.7 1098.8,363.7 1101.1,364.8 1103,364.7 1105.3,364.7 1107.4,365.5 1109.4,364.9 1111.5,365.1 1113.7,365.4 1115.8,365.6 1117.6,366.6 1119.9,366.4 1121.9,366.9 1123.7,366.5 1125.7,365.9 1127.7,366.7 1129.5,367.2 1131.4,367.7 1133.4,367.9 1135.1,367.4 1137.1,368.1 1139,368.3 1140.8,368 1142.6,368.4 1144.4,368.4 1146.2,368.7 1147.9,368.6 1149.6,369.2 1151.3,368.9 1153.1,369 1154.9,369.3 1156.5,369.7 1158.2,369.6 1159.9,369.6 1161.5,370.2 1163.1,369.9 1164.7,370 1166.5,370.1 1168.1,370.9 1169.6,370.4 1171.2,371.1 1172.8,370.8 1174.4,371.3 1175.8,371.2 1177.5,371.3 1178.9,371.2 1180.6,371.8 1182,372.1 1183.6,371.7 1185,371.6 1186.5,372.6 1187.9,372.1 1189.4,371.6 1190.8,372 1192.2,372.4 1193.6,371.9 1195.1,372.5 1196.6,372.8 1198,372.7 1199.4,372.9 1200.7,372.9 1202,373.2 1203.4,372.8 1204.7,372.8 1206.2,373.2 1207.5,373.1 1208.7,373.3 1210,373.3 1211.5,373.4 1212.7,373.4 1214,373.2 1215.3,373.8 1216.7,374.1 1217.8,374 1219.2,374 1220.5,374.1 1221.6,373.5 1223,374.2 1224.2,374.5 1225.4,374.5 1226.6,373.8 1227.8,374.8 1229.1,373.7 1230.3,374.3 1231.4,374.2 1232.6,375 1233.8,375.1 1235,374.8 1236.1,375.6 1237.3,375 1238.5,375.5 1239.7,374.9 1240.8,374.8 1241.9,374.6 1243.1,374.9 1244.3,375.6 1245.4,375.3 1246.4,376 1247.5,376 1248.7,375.6 1249.8,375.4 1250.8,375.6 1252,375.4 1253.1,376.1 1254.1,375.9 1255.2,375.8 1256.2,376.1 1257.3,376.3 1258.4,376.4 1259.4,376.1 1260.4,375.9 1261.6,376.8 1262.6,376 1263.6,376.1 1264.7,376.3 1265.6,376.6 1266.7,376.9 1267.7,376.8 1268.7,376.3 1269.7,376.9 1270.7,377.2 1271.8,377 1272.7,376.7 1273.7,377.5 1274.7,376.6 1275.7,377.5 1276.6,377.1 1277.6,377 1278.6,376.8 1279.5,378 1280.5,377.7 1281.4,377.8 1282.4,377.9 1283.3,377.4 1284.3,377.5 1285.1,377.9 1286.2,377.9 1287.1,377.4 1288,377.8 1288.9,377.8 1289.8,377.7 1290.7,378.1 1291.6,378.2 1292.6,378.7 1293.4,378 1294.2,377.9 1295.2,378.1 1296,378.9 1297,378 1297.9,378.1 1298.8,378.7 1299.6,379 1300.5,378.3 1301.3,378.4 1302.2,379 1303.1,378.3 1304,378.7 1304.8,379.2 1305.6,379.2 1306.5,378.8 1307.3,378.1 1308.1,379.5 1309,378.4 1309.8,378.6 1310.7,378.9 1311.5,378.7 1312.3,379.5 1313.1,379.2 1313.9,379.7 1314.7,378.4 1315.5,379 1316.3,379.5 1317.2,379.5 1318.8,379.7 1320.4,379.4 1321.1,379.4 1321.9,379.7 1322.7,379 1323.6,379.7 1324.3,379.9 1325.1,379.7 1326.7,379.7 1327.4,379.7 1328.9,379.8 1329.7,380.3 1331.2,379.5 1332,379.5 1333.5,380.3 1335,380.1 1336.4,379.7 1337.8,380.1 1338.6,380.4 1340.1,380.2 1341.5,379.8 1343,379.8 1344.3,380.6 1345.8,380.3 1347.1,380.4 1347.9,380 1349.2,381.2 1350.6,380.8 1352,380.2 1353.4,380.9 1354.7,381.3 1356.1,381.2 1357.4,381.1 1358.8,381.4 1360.1,381.2 1361.4,381.1 1362.7,381.4 1364,381.4 1365.3,380.7 1366.6,382 1367.8,381.3 1369.2,382.1 1370.4,381.1 1371.6,381.5 1372.9,381.7 1374.1,381.3 1375.4,382.2 1376.6,381.6 1377.8,381.2 1379,382.2 1380.2,381.7 1381.4,381.8 1382.6,381.6 1383.8,382.2 1385,381.6 1386.2,382.4 1387.3,381.9 1388.5,381.7 1389.7,382.3 1390.8,382.1 1392,382.2 1393.1,382.5 1394.2,382.8 1395.3,382.2 1396.4,382.1 1397.6,382.2 1398.6,382 1399.8,382.3 1400.9,382.3 1402,382.4 1403,382.1 1404.1,382.1 1405.2,382.3 1406.2,382.4 1407.3,382.7 1408.4,382.4 1409.4,381.6 1410.4,382.3 1411.5,382.1 1412.6,381.8 1413.6,381.5 1414.6,381.7 1415.6,382.1 1416.6,382 1417.7,381.9 1418.7,382.1 1419.6,381.8 1420.7,381.5 1421.7,381.3 1422.7,381.7 1423.6,382.1 1424.6,381.4 1425.6,381.4 1426.6,381.7 1427.5,381.3 1428.5,381.7 1429.5,381 1430.4,381.1 1431.4,380.8 1432.3,381.6 1433.2,381 1434.2,381.8 1435.2,381 1436.1,381.3 1437,381 1437.9,381.3 1438.8,380.9 1439.7,380.8 1440.7,380.9 1441.6,381.2 1442.5,381.9 1443.4,381.5 1444.3,382.1 1445.1,382 1446.1,381.4 1446.9,381.9 1447.8,382.3 1448.7,382.8 1449.6,382 1450.5,381.8 1451.3,382.5 1452.1,382.6 1453,382.8 1453.9,382.3 1454.7,382.6 1455.6,381.7 1456.4,382.6 1457.3,382.8 1458.1,382.9 1458.9,383.3 1459.8,382.7 1460.6,383 1461.5,383.6 1462.3,383.4 1463.1,383.1 1463.9,382.7 1464.7,383.3 1465.5,383.4 1466.4,383.5 1467.2,383.3 1468,383.4 1468.8,383.4 1469.5,383.8 1470.3,383.5 1471.2,383.9 1472.3,383.9 1473.1,383.5 1473.9,383.6 1474.6,384.4 1475.5,384.4 1476.2,383.6 1477,384.2 1477.7,384.8 1478.5,384.6 1479.7,384 1480.8,384.8 1481.5,384.7 1482.3,384.1 1483.1,384.4 1484.2,385.3 1485.3,384.3 1486.4,385.2 1487.5,385 1488.2,384.8 1489.3,385.3 1490.4,385.4 1491.5,385.5 1492.6,384.9 1493.6,385.8 1494.7,385.1 1495.8,385.9 1496.8,386.2 1497.8,385.9 1498.9,386.1 1499.9,385.6 1501,386.5 1502,386.5 1503,386.8 1504,386.5 1505.1,386.8 1506.1,387.4 1507.1,387 1508.1,387.8 1509.1,387.4 1510,387.5 1511,387.7 1512,388.1 1513,387.7 1514,387.6 1514.9,387.7 1515.9,388.8 1516.9,388.6 1517.8,389.4 1518.8,388.3 1519.7,388.6 1520.7,389.2 1521.6,388.8 1522.6,389.2 1523.5,389.4 1524.4,389.5 1525.3,389.2 1526.3,390.1 1527.2,389.3 1528.1,389.7 1529,390 1529.9,390.4 1530.8,390.8 1531.7,390.2 1532.6,390.8 1533.5,390.6 1534.4,390.8 1535.2,390.5 1536.1,390.5 1537,390.5 1537.9,391.7 1538.7,390.4 1539.6,391.4 1540.5,391.1 1541.3,391.5 1542.2,391.1 1543,391.8 1543.9,391.9 1544.7,391.9 1545.6,391.8 1546.4,391.9 1547.2,392.3 1548.1,391.8 1548.9,392.1 1549.7,392.2 1550.5,391.8 1551.4,393.1 1552.2,391.7 1553,392.5 1553.8,392.8 1554.6,391.6 1555.4,391.2 1556.2,391.8 1557,392 1557.8,391.7 1558.6,392.1 1559.4,392 1560.2,391.5 1561,392.3 1561.8,391.6 1562.5,391.5 1563.3,391.8 1564.1,391.7 1564.8,391.5 1565.6,392 1566.4,391.9 1567.1,391.2 1567.9,392.9 1568.9,392.1 1569.9,391.7 1570.6,392.5 1571.7,392 1572.6,391.9 1573.6,391.8 1574.6,391.5 1575.6,391.6 1576.5,391.9 1577.5,391.4 1578.5,391.8 1579.4,392 1580.4,391 1581.3,391.4 1582.3,391.5 1583.2,391.6 1584.2,391.2 1585.1,391.6 1586.1,391 1587,391 1587.9,391.3 1588.8,391.2 1589.7,391.2 1590.6,391.5 1591.6,390.9 1592.4,391.2 1593.3,391.4 1594.2,391 1595.1,391.3 1596,391.2 1596.9,390.1 1597.8,391 1598.7,390.9 1599.5,390.7 1600.4,390.3 1601.3,391.1 1602.1,390.7 1603,390.1 1603.9,390.8 1604.7,391.1 1605.6,391.1 1606.4,390.4 1607.3,390.5 1608.1,391.3 1608.9,391.1 1609.8,390.9 1610.6,390.4 1611.4,390.4 1612.2,390.9 1613.1,391.5 1613.9,390.8 1614.7,389.9 1615.5,391.1 1616.3,391.2 1617.1,390.5 1617.9,390.9 1618.7,390.9 1619.5,390.6 1620.3,390.9 1621.1,390.7 1621.9,390.6 1622.7,390.8 1623.5,390.9 1624.2,390.3 1625,390.6 1625.8,390.9 1626.6,390.3 1627.3,391.1 1628.1,391.1 1628.9,390.2 1629.6,391.3 1630.4,391.2 1631.1,390.7 1632.1,391 1632.8,391 1633.8,390.9 1634.5,390.5 1635.4,390.1 1636.4,390.8 1637.3,390.6 1638.2,390 1639.1,390.4 1640,390.8 1640.9,390.6 1641.8,390.8 1642.7,390.8 1643.6,390.6 1644.5,390.9 1645.4,390.9 1646.2,390.8 1647.1,390.6 1648,390.2 1648.9,390 1649.7,390.9 1650.6,390.6 1651.4,390.1 1652.3,390.3 1653.2,390.8 1654,389.9 1654.8,390.5 1655.7,390.4 1656.5,390.4 1657.4,390.6 1658.2,389.9 1659,390 1659.9,391.1 1660.7,389.9 1661.5,390.2 1662.3,390.7 1663.1,389.7 1664,390.7 1664.8,389.3 1665.6,389.6 1666.4,390 1667.2,389.3 1668,390 1668.8,389.6 1669.5,390 1670.3,389.1 1671.1,389.5 1671.9,389.1 1672.7,389.6 1673.5,389.5 1674.2,388.8 1675,388.7 1675.8,389.3 1676.5,388.9 1677.3,389.1 1678.1,388.4 1678.8,389 1679.6,388.9 1680.5,388.4 1681.2,388.5 1682,388.1 1682.9,388.4 1683.7,389.3 1684.5,388.3 1685.4,388.3 1686.3,388.4 1687.1,388.1 1688,388.5 1688.9,388.1 1689.7,388.9 1690.6,389.1 1691.4,388.7 1692.3,388.7 1693.1,389.8 1694,390.2 1694.8,390 1695.7,390.6 1696.5,390.7 1697.4,390.7 1698.2,390.4 1699,390.6 1699.8,391.2 1700.6,391.6 1701.5,392.1 1702.3,391.7 1703.1,392.5 1703.9,392.8 1704.7,393 1705.5,392.7 1706.3,393.3 1707.1,393.5 1707.9,393 1708.7,393.1 1709.5,393.9 1710.3,393.5 1711.1,394.5 1711.8,394.4 1712.6,393.6 1713.4,393.5 1714.2,394.2 1714.9,394.1 1715.7,394.7 1716.5,394.9 1717.2,394.7 1718,394.4 1718.7,394.8 1719.5,394.6 1720.4,394.3 1721.2,395.7 1722.1,395.4 1723,395.8 1723.8,396 1724.7,395.5 1725.5,396.2 1726.2,395.4 1726.3,396.5 1726.4,396.2 1726.5,396.3" fill="none" stroke="none" marker-start="url(#m5)" marker-mid="url(#m5)" marker-end="url(#m5)"/>
<polyline points="257.5,105.9 351.4,237.9 409.5,246.7 455.6,255.8 494.3,271 530.6,274.8 556.7,277.2 582,279.9 607.7,285 627.6,295.8 645,297 661.4,297.9 679.2,296.3 693.3,297.4 707,297.1 719.3,297.4 732.4,297.2 743.9,298.6 755.2,298.7 765.4,299 776.2,299.9 785.1,300.8 793.2,301.4 802.7,302.3 810.8,303.2 819,303.6 827.1,305.1 834.9,306.6 841.9,306.7 849,307.3 857,308.1 863.4,308.8 869.9,308.8 876.2,309.4 881.8,309.6 888.3,310 894,309.7 899.6,310.7 905,314.1 910,315 915.2,314.6 920.8,314.4 925.4,314.5 930.5,315.5 935.4,315.9 939.7,315.2 944.5,315.3 948.9,315.6 953.3,317.7 957.7,318.2 961.4,318.6 965.8,318 969.7,318.6 973.6,317.9 977.9,318 981.4,319 985.2,318.7 988.8,318.8 992.4,318.3 996,318.7 999.9,319.3 1003.1,322 1006.5,322.7 1009.9,322.4 1013.4,322.1 1016.3,323.2 1019.8,323.1 1022.7,323.2 1026.1,323.6 1029,322.9 1031.9,322.6 1035.1,323.4 1037.8,324.4 1040.9,323.6 1043.6,323.7 1046.4,323.4 1049.3,324.1 1052.2,324.1 1054.9,324.1 1057.4,324.4 1060.1,324.1 1062.9,324.4 1065.2,324.6 1067.9,325.1 1070.3,324.5 1073.1,325 1075.4,324.6 1077.9,324.6 1080.2,324.9 1082.6,325.1 1085.2,325.7 1087.3,326.2 1089.6,326.2 1092.1,325.8 1094.2,325.7 1096.5,326.2 1098.7,325.6 1100.9,326.4 1103,326.1 1105.1,326.1 1107.4,326.9 1109.5,326.4 1111.7,327.1 1113.6,327.4 1115.8,326.6 1117.8,327 1119.7,327.4 1121.7,327.3 1123.8,327.8 1125.7,327.6 1127.6,327.9 1129.5,328 1131.4,327.8 1133.3,327.9 1135.2,328.2 1137.2,328.3 1139,328.6 1140.6,328.6 1142.6,329.1 1144.4,329.7 1146.2,329.6 1147.9,329.5 1149.6,329.4 1151.4,330.3 1153.1,330 1154.8,330.1 1156.4,329.8 1158.2,330.3 1159.8,330.5 1161.6,330.2 1163.1,330.4 1164.8,329.7 1166.4,330.4 1168,330.5 1169.7,330.6 1171.2,330.6 1172.8,331 1174.3,330.8 1175.9,331.6 1177.4,331.4 1179,331.3 1180.4,331.8 1181.9,331.7 1183.5,332.4 1185,331.4 1186.5,332.7 1187.9,331.9 1189.5,332 1190.9,332.2 1192.3,332.6 1193.7,332.4 1195.1,331.9 1196.5,332.3 1197.8,332.4 1199.3,332.9 1200.7,332.5 1202,333.3 1203.4,332.3 1204.8,332.9 1206.2,332.6 1207.4,333 1208.9,333.3 1210.2,333.3 1211.4,333.8 1212.8,333 1214.1,333.7 1215.3,333.4 1216.6,333.7 1217.9,333.7 1219.2,334.2 1220.4,333.8 1221.7,333.8 1222.9,333.8 1224.1,334.3 1225.4,333.7 1226.7,334 1227.9,334.4 1229.1,334 1230.3,334.1 1231.4,334.2 1232.6,334.4 1233.9,334.3 1235,334.1 1236.2,334.3 1237.3,334.4 1238.5,334.9 1239.7,334.4 1240.9,334.6 1241.9,334.6 1243.2,334.1 1244.2,334.7 1245.4,334.2 1246.5,335.3 1247.6,334.5 1248.7,335.3 1249.8,334.3 1250.9,335.2 1252,334.5 1253,335 1254.1,335.7 1255.2,335.6 1256.2,335.7 1257.3,335.2 1258.4,335.3 1259.4,335.6 1260.5,335.1 1261.5,336.1 1262.6,335.6 1263.6,335 1264.7,335.3 1265.7,336.2 1266.6,335.2 1267.8,336.2 1268.8,335.7 1269.7,335.6 1270.7,335.9 1271.8,335.8 1272.7,335.5 1273.6,335.7 1274.7,336.1 1275.6,335.6 1276.6,336.3 1277.6,335.4 1278.6,336.1 1279.5,336.1 1280.4,335.8 1281.4,336.5 1282.4,336.6 1283.3,336.2 1284.3,336.4 1285.2,336.9 1286.1,337.1 1287.1,336.8 1288,336.2 1288.9,336.4 1289.8,336.5 1290.7,336.5 1291.6,336.5 1292.6,335.5 1293.4,336.5 1294.3,336.5 1295.2,336.7 1296.1,336.5 1297,336.3 1297.8,336.4 1298.7,336.5 1299.6,336.3 1300.5,336.2 1301.3,336.7 1302.2,336.5 1303.1,335.8 1303.9,336.5 1304.7,336.6 1305.7,336.9 1306.5,336.6 1307.3,336.9 1308.2,336.9 1308.9,336.8 1309.8,336.7 1310.6,337 1311.5,336.8 1313.1,336.8 1313.9,337.2 1314.7,336.5 1315.5,336.1 1316.4,336.6 1317.2,336.2 1318,337.5 1319.6,336.5 1320.4,336.7 1321.2,336.4 1322.7,336.9 1323.6,337.5 1325.1,337.4 1326.6,336.6 1327.4,336.6 1328.2,337.2 1329.7,337.2 1331.2,336.7 1332.7,337 1334.2,337.4 1335.7,337.3 1337.2,337.4 1338.6,337.2 1340.1,336.9 1341.5,337.4 1342.9,337.9 1343.7,336.5 1345,337 1346.5,337.1 1347.9,335.8 1349.2,336.5 1350,336.9 1351.4,336.4 1352.7,336.8 1354.1,336.6 1355.4,336.5 1356.8,336.6 1358.1,337 1359.4,336.9 1360.8,336.7 1362.1,337.1 1363.4,337.2 1364.7,336.9 1366,336.5 1367.2,337.2 1368.5,337.3 1369.8,336.8 1371.1,336.9 1372.3,336.1 1373.5,337.2 1374.8,336.2 1376,337.2 1377.2,336.9 1378.4,337.5 1379.6,336.3 1380.8,337.2 1382,336.3 1383.2,336.8 1384.4,336.7 1385.6,337 1386.7,336.7 1387.9,336.9 1389.1,337.3 1390.2,336.5 1391.4,336.3 1392.5,337 1393.6,336.7 1394.8,336.5 1395.9,336.8 1397,337 1398.1,336.9 1399.2,336.8 1400.3,337.1 1401.4,337.2 1402.5,336.8 1403.6,336 1404.7,336.9 1405.7,337 1406.8,337.1 1407.9,337.3 1408.9,337.5 1410,336.5 1411,336.7 1412,336.8 1413.1,337.2 1414.1,336.5 1415.1,336.8 1416.1,336.6 1417.1,337 1418.2,336 1419.2,336.8 1420.2,337.2 1421.2,336.3 1422.2,336.9 1423.1,337 1424.2,336.7 1425.1,336.6 1426.1,337 1427.1,337.1 1428,337.5 1429,337.3 1430,336.8 1430.9,336.3 1431.8,336.3 1432.8,336.7 1433.7,336.8 1434.7,336.7 1435.6,336.9 1436.5,336.5 1437.5,336.4 1438.4,336.2 1439.3,336 1440.2,336.6 1441.1,336.1 1442,336.2 1442.9,336.1 1443.8,336.4 1444.7,336.3 1445.6,336 1446.5,336.5 1447.4,336.3 1448.3,336 1449.1,335.8 1450,336.2 1450.9,336.4 1451.7,335.9 1452.6,336.5 1453.5,336.9 1454.3,336.2 1455.2,335.8 1456,336.7 1456.8,336.3 1457.7,336.3 1458.6,335.9 1459.4,335.6 1460.2,336.2 1461.1,336.1 1461.9,335.5 1462.7,335.4 1463.5,336.1 1464.3,335.7 1465.2,336.4 1465.9,335.7 1466.7,335.8 1467.5,335.5 1468.3,335.6 1469.2,335.8 1469.9,336.2 1470.7,335.3 1471.5,335.2 1472.3,335.8 1473.1,335.6 1473.9,335.4 1474.7,335.3 1475.4,335.7 1476.2,335.8 1477,335.5 1477.8,335.3 1478.5,334.8 1479.6,335.8 1480.4,335.8 1481.2,335.4 1482.3,335.6 1483,336.3 1483.8,335.5 1484.9,335.6 1486,335.4 1487.1,335.2 1488.2,335.1 1489.3,335.6 1490.4,335.3 1491.5,335 1492.6,335.9 1493.6,336 1494.7,335.6 1495.7,335.1 1496.8,335.4 1497.9,335.1 1498.9,335.1 1499.9,334.8 1501,335.6 1502,335.3 1503,335.8 1504,335.3 1505.1,335.6 1506.1,335.4 1507.1,335.1 1508.1,335.8 1509,336.1 1510,335 1511.1,335.5 1512,335.4 1513,335.8 1514,335.9 1515,335.4 1515.9,335.2 1516.9,335.4 1517.8,335.8 1518.8,335.5 1519.7,335.3 1520.7,334.9 1521.6,335.3 1522.6,335.2 1523.5,336.1 1524.4,335.1 1525.4,335.7 1526.3,335.5 1527.2,334.5 1528.1,335.5 1529,335.6 1529.9,335.2 1530.8,335.4 1531.7,335.9 1532.6,335.7 1533.5,335 1534.4,336.2 1535.3,336 1536.1,336 1537,336.1 1537.9,335.8 1538.8,336.3 1539.6,335.7 1540.5,335.2 1541.3,336.5 1542.2,336.1 1543,336.5 1543.9,336.1 1544.7,336.1 1545.6,336.4 1546.4,336.6 1547.2,336.3 1548.1,336.4 1548.9,336.6 1549.7,336.9 1550.6,336.2 1551.4,336.3 1552.2,336.9 1553,336.6 1553.8,337.3 1554.6,337.2 1555.4,336.8 1556.2,336.6 1557,337 1557.8,337.3 1558.6,337 1559.4,337.4 1560.2,336.8 1561,337.5 1561.7,338.5 1562.5,337.4 1563.3,338.2 1564.1,337.3 1564.9,338 1565.8,337.5 1566.6,338.1 1567.4,337.7 1568.1,337.8 1568.9,337.8 1569.9,337.9 1570.9,337.4 1571.9,338.1 1572.6,338.3 1573.6,337.4 1574.4,338.6 1575.3,338.5 1576.3,338.8 1577.3,338.2 1578.2,338 1579.2,339.4 1580.2,338.4 1581.1,339 1582.1,339.3 1583,339.1 1583.9,339.2 1584.9,338.6 1585.8,339.4 1586.7,338.9 1587.7,339.2 1588.6,339.5 1589.5,339 1590.4,339.9 1591.3,339 1592.2,339.6 1593.1,340.1 1594,339.9 1594.9,339.5 1595.8,340.1 1596.7,339.3 1597.6,339.9 1598.5,340.3 1599.3,340.1 1600.2,340.3 1601.1,340.6 1601.9,340.7 1602.8,340.3 1603.6,339.7 1604.5,340.8 1605.3,340.8 1606.2,340.4 1607,340.4 1607.9,340.7 1608.7,341.1 1609.5,340.7 1610.4,340.8 1611.2,341.5 1612,341.1 1612.9,341.4 1613.7,341.7 1614.5,341.7 1615.3,341.5 1616.1,341.7 1616.9,342 1617.7,342.3 1618.5,342.5 1619.3,342.6 1620.1,342.4 1620.9,342 1621.7,342.7 1622.5,342.5 1623.3,342.7 1624,342.4 1624.8,343.1 1625.6,343.1 1626.4,343.1 1627.1,342.9 1627.9,343.4 1628.7,342.4 1629.4,343.1 1630.2,342.7 1631.1,342.7 1632.1,343.1 1632.8,342.4 1633.8,342.8 1634.7,342.6 1635.6,343.2 1636.5,342.5 1637.5,342.3 1638.4,342.8 1639.3,342.7 1640.2,342.4 1641.1,342.1 1642,342.4 1642.9,342.9 1643.8,342.2 1644.6,342.1 1645.5,342.4 1646.4,342.7 1647.3,342.6 1648.2,342.3 1649,342.5 1649.9,342.7 1650.8,342.1 1651.6,341.2 1652.5,342 1653.3,341.6 1654.2,341.5 1655,341 1655.9,341.6 1656.7,341.7 1657.5,340.8 1658.4,341.6 1659.2,341.5 1660,340.9 1660.9,340.7 1661.7,341.3 1662.5,340.5 1663.3,341.2 1664.1,340.9 1664.9,339.9 1665.7,340.3 1666.5,340.8 1667.3,340 1668.1,340.2 1668.9,340.1 1669.7,339.8 1670.5,340.2 1671.3,340.1 1672.1,340.1 1672.8,340.5 1673.6,339.4 1674.4,339.7 1675.2,340 1675.9,339.5 1676.7,339.2 1677.4,339.2 1678.2,338.9 1679,339.2 1679.7,338.9 1680.5,338.3 1681.2,339.4 1682.1,338.9 1683,338.8 1683.9,339.2 1684.8,338.9 1685.7,338.5 1686.5,338.5 1687.4,338.3 1688.3,338.1 1689.1,338.2 1690,339 1690.9,338.6 1691.7,338.1 1692.6,338.1 1693.4,338 1694.3,338.4 1695.1,338.1 1696,338.3 1696.8,338.2 1697.6,338 1698.5,338.5 1699.3,338.1 1700.1,338.4 1700.9,338.4 1701.7,338.9 1702.6,337.6 1703.4,337.6 1704.2,337.7 1705,338.9 1705.8,338.5 1706.6,338.7 1707.4,338.2 1708.2,338.2 1709,337.6 1709.8,338.5 1710.5,338.1 1711.3,337.1 1712.1,338.3 1712.9,337.8 1713.7,338.3 1714.4,337.9 1715.2,337.9 1716,337.4 1716.7,337.8 1717.5,337.8 1718.4,337.5 1719.1,337.8 1720,338 1720.7,337.8 1721.6,337.7 1722.4,337.8 1723.2,338 1724.1,337.8 1724.9,337.6 1725.8,337.2 1726.1,337.8 1726.3,338.4 1726.4,337.7 1726.5,337.8" fill="none" stroke="none" marker-start="url(#m6)" marker-mid="url(#m6)" marker-end="url(#m6)"/>
<polyline points="351.4,216.1 409.5,232 455.6,239.5 494.3,241.8 530.6,245.6 556.7,253.3 582,253.6 607.7,254.6 627.6,261.1 645,261.6 661.4,264.8 679.2,264.4 693.3,265.8 707,265.5 719.3,265.5 732.4,267.3 743.9,269.4 755.2,270.5 765.4,271 776.2,271.9 785.1,271.7 793.2,272.5 802.7,273.4 810.8,273.9 819,274.1 827.1,274.3 834.9,274.6 841.9,275.1 849,276 856.3,276.9 863.5,277.4 869.6,277.4 876.2,277.2 882.3,277.4 887.9,277.7 893.9,278.7 899.3,278.5 904.6,279.5 910.3,279 915.3,280.1 920.3,279.9 925.2,280 930.1,281 934.9,280.8 939.5,280.7 944.1,281 948.8,280.8 952.9,281.3 957.2,281.4 961.6,281.5 965.7,281.9 969.6,281.4 973.6,281.9 977.7,281.6 981.4,281.8 985.3,282.3 988.9,281.9 992.8,282.4 996.4,282.2 999.6,281.6 1003.2,281.7 1006.4,281.3 1009.7,281.7 1013.1,282.2 1016.7,282.4 1019.8,282.7 1023,281.8 1025.8,282.6 1029,282.6 1032,282.7 1034.9,282.6 1038.1,282.1 1041,281.9 1043.8,282 1046.6,282.2 1049.4,282.2 1052.2,282.1 1054.9,281.8 1057.5,282.2 1060.3,282.9 1062.8,281.9 1065.3,282.4 1067.9,282.9 1070.6,282.8 1072.9,282.4 1075.5,282.1 1077.8,282.3 1080.4,282.9 1082.6,283 1085.1,283 1087.3,282.6 1089.8,282.9 1092,283 1094.4,283.5 1096.6,282.6 1098.8,283 1101,282.8 1103,282.8 1105.3,283.3 1107.3,283.8 1109.4,282.7 1111.7,283.3 1113.8,282.9 1115.7,283 1117.6,283.2 1119.8,283.9 1121.6,283.5 1123.8,283.9 1125.7,282.7 1127.7,283.3 1129.6,282.8 1131.4,283.2 1133.2,283.6 1135.1,282.9 1137.2,283 1138.8,283.5 1140.7,283.6 1142.6,282.9 1144.3,283 1146.2,283.9 1147.8,283.3 1149.7,284 1151.4,283.6 1153.1,283.7 1154.7,283.2 1156.5,283.3 1158.2,284.1 1159.9,283.8 1161.5,283.8 1163.1,283.7 1164.9,282.9 1166.4,283.5 1168,283.2 1169.6,283.5 1171.2,283.3 1172.8,282.7 1174.3,284 1175.9,283.6 1177.5,283.8 1179,283.7 1180.4,283.2 1181.9,283.6 1183.6,282.9 1184.9,283.8 1186.5,282.7 1187.9,283.4 1189.3,283.1 1190.8,283.5 1192.2,283.5 1193.6,283.4 1195.1,283.7 1196.5,283 1197.8,283.1 1199.4,284.2 1200.8,283.1 1202,283.8 1203.5,282.9 1204.7,283.3 1206.1,283.3 1207.4,283.8 1208.8,282.9 1210.1,283.4 1211.4,283 1212.8,283.2 1214.1,283.6 1215.4,283.6 1216.7,283.9 1217.9,283.1 1219.2,283.4 1220.4,283.9 1221.7,283.7 1223,284.4 1224.1,283.4 1225.5,283.6 1226.6,283.8 1227.8,283.4 1229.1,283 1230.3,283.2 1231.5,283.4 1232.6,283.9 1233.9,284 1235,283.8 1236.1,283.9 1237.4,283.5 1238.5,283.9 1239.6,283.2 1240.8,284 1242,283.1 1243.2,284.7 1244.2,283.4 1245.3,283.6 1246.4,283.7 1247.6,284.4 1248.6,283.8 1249.8,284.4 1250.8,283.9 1251.9,283.9 1253.1,284.1 1254.1,284 1255.2,283.9 1256.3,284.4 1257.3,284.6 1258.4,284.4 1259.4,284.7 1260.5,284.6 1261.5,284.7 1262.6,284.3 1263.7,284.2 1264.7,284.4 1265.7,284.6 1266.6,284.2 1267.8,284.2 1268.7,284.3 1269.7,284.5 1270.7,284.6 1271.8,284.3 1272.7,284.5 1273.7,284.8 1274.7,285.2 1275.7,284.7 1276.7,284.5 1277.6,284.5 1278.5,285.1 1279.5,284.5 1280.5,284.7 1281.4,283.8 1282.3,284.3 1283.3,284.8 1284.2,284.6 1285.1,285.3 1286.1,285.1 1287.1,285 1287.9,284.6 1288.8,284.8 1289.8,285.2 1290.7,284.7 1291.6,284.6 1292.5,284.3 1293.4,284.9 1294.3,285.3 1295.2,284.9 1296.1,285.3 1297,284.6 1297.9,284.8 1298.7,285.2 1299.7,284.9 1300.4,285.2 1301.4,284.7 1302.2,285.6 1303.1,285.4 1303.9,285.4 1304.7,284.8 1305.6,285.1 1306.5,285.1 1307.3,285.5 1308.1,285.9 1309,285.1 1309.9,285.6 1310.6,285 1311.5,285.3 1312.3,286.1 1313.1,285.1 1314,285.7 1314.8,285 1316.4,285.5 1317.2,284.9 1318,285.6 1319.6,285.4 1321.2,286.2 1322.7,284.6 1324.3,285.6 1325.8,285.7 1326.7,286 1327.4,285.3 1328.9,285.7 1330.4,285.8 1331.2,286.1 1332.7,285.9 1334.2,286 1335,285.3 1336.4,285.8 1337.1,285.6 1338.6,286.1 1339.3,285.9 1340.8,285.3 1342.2,285.2 1343.6,285.8 1345,286.3 1346.5,286.3 1347.9,285.8 1349.3,286.3 1350.7,285.7 1352,285.9 1353.4,286.1 1354.7,286 1356.1,285.8 1357.4,285.8 1358.8,286 1360.1,286.1 1361.4,286.4 1362.7,286.4 1364.1,286.5 1365.3,286.1 1366.6,286.3 1367.9,286.3 1369.1,286.1 1370.4,286.3 1371.6,286 1372.9,286.3 1374.2,287.1 1375.4,286.7 1376.6,286.5 1377.8,285.8 1379.1,286.6 1380.2,286.1 1381.4,287 1382.6,286.4 1383.8,286.9 1385,286.4 1386.2,286.4 1387.4,286.6 1388.5,287.2 1389.6,287.1 1390.8,286.9 1391.9,286.7 1393.1,287.1 1394.2,287.3 1395.3,286.8 1396.4,286.8 1397.5,286.9 1398.7,287.1 1399.8,286.8 1400.8,287.3 1402,287.2 1403,287.4 1404.1,287.4 1405.2,286.6 1406.3,287.5 1407.3,287.5 1408.4,287.3 1409.4,287.7 1410.4,286.7 1411.5,288 1412.6,287.5 1413.6,288 1414.6,287.7 1415.6,287.1 1416.7,287.7 1417.7,287.7 1418.7,287.1 1419.7,288 1420.7,287.7 1421.7,287.6 1422.7,287.9 1423.6,288.3 1424.6,287.8 1425.6,288.2 1426.6,288.2 1427.5,288.3 1428.5,287.5 1429.5,287.5 1430.5,288.4 1431.4,288.5 1432.3,288.2 1433.3,288.1 1434.2,287.6 1435.1,287.7 1436.1,288.2 1437,287.8 1437.9,287.6 1438.8,287.3 1439.7,287.7 1440.7,288.3 1441.6,287.8 1442.4,288 1443.4,287.8 1444.3,287.5 1445.2,287.8 1446.1,287.7 1446.9,287.2 1447.8,287.6 1448.7,286.9 1449.6,287.5 1450.5,287.4 1451.3,287.8 1452.2,286.8 1453,286.5 1453.9,287.9 1454.7,287.8 1455.6,287.4 1456.5,287.4 1457.3,287 1458.1,287.1 1459,286.8 1459.8,287.4 1460.6,287.4 1461.5,286.9 1462.3,286.8 1463.1,287.2 1463.9,286.6 1464.7,287 1465.6,287 1466.3,287.5 1467.2,287.2 1468,287 1468.8,287.8 1469.6,287.2 1470.3,286.9 1471.1,287.3 1471.9,287.4 1472.7,287.2 1473.5,287.2 1474.3,286.7 1475.4,286.7 1476.2,286.6 1477,286.3 1477.7,287.1 1478.5,287 1479.3,286 1480,287.5 1481.2,287.4 1481.9,287.1 1483,286.8 1483.8,286.9 1484.9,287 1486,286.3 1487.1,286.6 1488.2,287 1489,286.3 1490.1,286.6 1491.1,286.9 1492.2,286.7 1493.3,286.7 1494.3,285.8 1495.4,286.5 1496.5,286.7 1497.5,286.4 1498.6,286.3 1499.6,286.5 1500.6,286.4 1501.6,286.7 1502.7,286.2 1503.7,286.9 1504.7,286.2 1505.7,286 1506.7,286 1507.7,286.1 1508.7,286 1509.7,286.4 1510.7,286 1511.7,286 1512.7,285.7 1513.7,285 1514.6,286.4 1515.6,285.9 1516.6,285.4 1517.5,285.6 1518.5,286.4 1519.4,285.4 1520.3,286.1 1521.3,286 1522.2,286.3 1523.2,286 1524.1,285.4 1525,285.5 1526,285.9 1526.9,285.2 1527.8,285.4 1528.7,285.9 1529.6,285.8 1530.5,285.4 1531.4,285.9 1532.3,285.2 1533.2,285.2 1534.1,285.9 1534.9,285.8 1535.8,285.4 1536.7,285.9 1537.6,285.7 1538.5,285.5 1539.3,285.3 1540.2,285.9 1541,284.9 1541.9,285.2 1542.8,285.4 1543.6,285.1 1544.5,284.9 1545.3,285.2 1546.1,284.7 1547,285.4 1547.8,285.9 1548.6,285.1 1549.4,285.5 1550.3,285.3 1551.1,285.4 1551.9,284.9 1552.7,285 1553.5,285.6 1554.4,285.8 1555.1,285 1555.9,285.3 1556.8,285 1557.6,284.4 1558.3,285.4 1559.1,285.2 1559.9,284.8 1560.7,284.6 1561.5,284.9 1562.3,285 1563,285.1 1563.8,285 1564.6,284.6 1565.4,284.6 1566.1,284.7 1566.9,285 1567.9,285 1568.6,284.5 1569.4,285.3 1570.4,285.4 1571.2,285.1 1572.1,284.5 1573.1,284.3 1573.9,285 1574.8,284.3 1575.8,284.6 1576.8,284.8 1577.8,284.5 1578.7,284.7 1579.7,285 1580.6,285.5 1581.6,284.5 1582.5,284 1583.5,284.4 1584.4,284.6 1585.3,284.9 1586.3,285.1 1587.2,284.6 1588.1,285.1 1589,284.4 1589.9,284.8 1590.9,284.9 1591.8,284.6 1592.7,284.8 1593.6,284.5 1594.5,285.2 1595.4,284.5 1596.2,284.1 1597.1,284.8 1598,284.7 1598.9,284.7 1599.8,284.8 1600.6,284.5 1601.5,285.2 1602.4,284.6 1603.2,285 1604.1,284.8 1604.9,285.3 1605.8,284.7 1606.6,285.1 1607.5,284.9 1608.3,285.1 1609.1,284.9 1610,284.6 1610.8,284.8 1611.6,285.1 1612.4,284.6 1613.3,285.6 1614.1,284.5 1614.9,284.7 1615.7,284.7 1616.5,285 1617.3,284.3 1618.1,285.1 1618.9,284.5 1619.7,284.8 1620.5,284.6 1621.3,285.6 1622.1,285.2 1622.9,285.6 1623.7,285.4 1624.4,285.9 1625.2,285.7 1626,285.3 1626.8,285.4 1627.5,285.5 1628.3,285.8 1629.2,285.4 1630,285.5 1630.8,285.3 1631.7,285.9 1632.5,286.3 1633.2,285.3 1634.1,285.7 1634.9,286 1635.8,286.1 1636.7,286.5 1637.6,285.6 1638.5,285.8 1639.4,286.3 1640.4,286.4 1641.3,286 1642.2,285.9 1643.1,286.1 1643.9,286.3 1644.8,286.3 1645.7,286.4 1646.6,286.7 1647.5,286.4 1648.3,286.6 1649.2,286.5 1650.1,286.7 1650.9,286.7 1651.8,287.1 1652.6,286.5 1653.5,286.9 1654.3,286.5 1655.2,287.1 1656,286.6 1656.9,286.6 1657.7,286.4 1658.5,286.5 1659.4,287.3 1660.2,287 1661,286.8 1661.8,286.4 1662.7,286.9 1663.5,286.5 1664.3,287 1665.1,286.8 1665.9,286.7 1666.7,286.7 1667.5,286.1 1668.3,287 1669.1,287.1 1669.9,286.7 1670.6,286.5 1671.4,287.1 1672.2,286.5 1673,286 1673.8,286.4 1674.5,286.7 1675.3,286.9 1676.1,286.8 1676.8,287.7 1677.6,286.9 1678.4,286.9 1679.3,287.1 1680.2,287.2 1681.1,287.3 1681.8,286.5 1682.7,286.5 1683.6,286.7 1684.5,286.9 1685.4,287.1 1686.3,287.3 1687.1,287.6 1688,287.1 1688.9,286.8 1689.7,286.4 1690.6,286.9 1691.4,286.9 1692.3,286.9 1693.2,287.1 1694,286.9 1694.8,286.8 1695.7,286.6 1696.5,286.2 1697.3,286.5 1698.2,286.8 1699,285.9 1699.8,286.4 1700.7,286.7 1701.5,286.8 1702.3,286.1 1703.1,286.9 1703.9,286.3 1704.7,286.1 1705.5,286.6 1706.3,286.5 1707.1,286.1 1707.9,286.1 1708.7,286.7 1709.5,286.3 1710.3,286.5 1711.1,286.4 1711.8,286.4 1712.6,286.3 1713.4,286.2 1714.2,285.6 1714.9,285.8 1715.7,286.1 1716.5,285.8 1717.2,286.3 1718,286.1 1718.7,285.5 1719.6,286.3 1720.5,285.7 1721.4,285.7 1722.2,285.6 1723.1,285.6 1724,285.6 1724.8,285 1725.7,285.4 1726.2,285.5 1726.3,285.9 1726.4,285.7 1726.5,286 1726.6,285.8" fill="none" stroke="none" marker-start="url(#m7)" marker-mid="url(#m7)" marker-end="url(#m7)"/>
<polyline points="351.4,199.3 409.5,204 455.6,218 494.3,222 530.6,222 556.7,223 582,227.4 607.7,232.3 627.6,233.3 645,234 661.4,234.1 679.2,234.7 693.3,235.9 707,235.7 719.3,235.3 732.4,236.7 743.9,237.2 755.2,237.1 765.4,237.8 776.2,238.6 785.1,238.8 793.2,238.6 802.7,239.6 810.8,240.5 819,240.4 827.1,240 834.9,240.6 841.9,240.9 849,241.1 856.7,241.2 863.3,242.3 869.4,242.1 876.3,242.5 881.8,242 888,242.8 893.5,242.7 899.2,243 905.1,242.9 910.3,243.6 915.3,242.4 920.3,243.1 925.8,243.2 930.4,243.4 935.3,243.1 939.8,243.2 944.2,243.2 948.9,243.7 953.2,243.8 957.3,244.1 961.4,243.8 965.8,244.3 969.7,244.5 973.6,244.7 977.7,244.4 981.6,244.2 985.2,244.5 989.2,244.6 992.8,245.3 996.2,244.7 999.7,245.1 1003.1,244 1006.5,244.8 1010,244.9 1013,244.4 1016.6,244.4 1019.6,243.7 1022.9,244.6 1025.8,244.1 1029.2,243.9 1031.9,243.9 1035,243.8 1038,243.5 1040.9,244.3 1043.6,244 1046.6,244.3 1049.2,243.1 1052.1,244.1 1054.8,243.6 1057.5,243.6 1060.3,243.8 1062.7,243.7 1065.3,244 1068,243.7 1070.3,243.5 1073,243.1 1075.4,242.7 1078,242.6 1080.3,243.8 1082.8,243.5 1085,243.1 1087.4,243.1 1089.6,243.4 1092,243 1094.2,243 1096.6,243.3 1098.8,242.7 1101,243.1 1103.2,244 1105.2,243.8 1107.3,243.3 1109.5,243.1 1111.5,243 1113.7,242.7 1115.7,243.3 1117.7,243 1119.8,243.1 1121.9,244 1123.7,243.5 1125.7,243.2 1127.6,243.1 1129.6,242.7 1131.5,243.6 1133.4,243 1135.3,243.1 1137,244 1138.9,243.8 1140.8,243.4 1142.4,242.8 1144.3,243.6 1146.1,242.9 1147.9,243.4 1149.6,242.9 1151.3,243.8 1153,243.1 1154.8,243.4 1156.5,243.4 1158.1,242.9 1159.8,242.8 1161.6,242.8 1163.2,242.8 1164.9,243.7 1166.4,243 1168,243 1169.7,243 1171.2,242.9 1172.8,242.5 1174.2,242.7 1175.9,242.3 1177.5,242.7 1178.9,242.3 1180.4,242.4 1182,242.2 1183.6,242 1184.9,242.5 1186.4,242.4 1187.8,242.7 1189.3,243 1190.9,242.4 1192.3,241.8 1193.7,241.7 1195.1,241.6 1196.4,241.6 1198,241.6 1199.4,241.4 1200.6,241.9 1202,242.1 1203.4,242.2 1204.7,241.6 1206.1,241 1207.6,241.4 1208.8,241.9 1210.2,242 1211.5,241 1212.8,241.9 1214,241.5 1215.4,241.3 1216.6,241.9 1217.9,241.4 1219.1,241.5 1220.5,241.2 1221.7,241.3 1222.9,241.5 1224.2,241.6 1225.4,241.1 1226.6,241 1227.9,241.6 1229,240.9 1230.2,240.9 1231.5,240.7 1232.6,241.3 1233.8,241.3 1235,241.3 1236.2,241.1 1237.4,241.2 1238.5,241.7 1239.6,241.4 1240.8,241.4 1241.9,241.3 1243.1,241.2 1244.2,241.6 1245.4,241.4 1246.5,241.6 1247.5,241.5 1248.7,241.7 1249.8,241.5 1250.9,242.2 1251.9,241.3 1253,241.1 1254.1,241.3 1255.2,241.8 1256.3,241.3 1257.3,240.8 1258.4,240.8 1259.4,241.3 1260.5,241.1 1261.5,242 1262.6,241.8 1263.6,241.3 1264.7,241.7 1265.6,241.7 1266.6,241.1 1267.7,241.1 1268.7,241.8 1269.7,241.3 1270.8,241.9 1271.7,240.9 1272.7,241.5 1273.7,242.2 1274.6,241.7 1275.6,241.3 1276.6,242 1277.6,241.8 1278.6,241.9 1279.5,241.5 1280.5,241.3 1281.4,241.1 1282.4,241.4 1283.3,241.5 1284.3,241.3 1285.1,242 1286.1,241.5 1287.1,240.9 1287.9,241.2 1288.9,241.1 1289.7,241.9 1290.7,241.2 1291.6,241.6 1292.5,241 1293.4,241.2 1294.2,240.7 1295.2,241.3 1296,240.4 1297,241 1297.8,241.4 1298.8,240.5 1299.6,241.1 1300.5,241.2 1301.3,241 1302.2,240.9 1303.1,240.8 1303.9,240.8 1304.8,241 1305.6,240.6 1306.4,241 1307.3,241 1308.2,241.8 1309,241.2 1309.9,241.1 1310.7,241.4 1311.5,240.7 1312.3,241.7 1313.1,240.6 1314,240.9 1314.8,241.1 1315.6,241 1316.4,241.3 1317.2,241 1318.8,241.2 1319.6,240.5 1320.4,240.7 1321.2,241.4 1321.9,240.7 1322.8,240.7 1324.3,240.7 1325.1,240.8 1325.9,240.3 1326.6,240.6 1327.4,241 1328.2,240.4 1329.7,240.8 1330.5,240.9 1331.9,240.4 1332.7,240.3 1334.2,240.7 1335.6,241.1 1336.4,240.6 1337.2,240.7 1338.6,240.3 1339.3,240 1340.8,240.3 1341.5,240.4 1343,240.8 1344.4,240.4 1345.8,239.9 1347.2,239.6 1348.6,239.9 1349.9,240.1 1351.3,239.7 1352.7,240.2 1354.1,239.6 1355.4,239.8 1356.8,239.2 1358.1,240.3 1359.4,239.2 1360.7,239.8 1362.1,239.3 1363.3,239.3 1364.6,239.5 1366,238.9 1367.2,239.3 1368.5,238.8 1369.8,238.9 1371,239.2 1372.2,238.9 1373.5,239.3 1374.7,239.4 1376,239.1 1377.2,239.1 1378.4,238.7 1379.6,238.9 1380.9,239.3 1382,239.1 1383.2,238.9 1384.4,238.6 1385.6,239 1386.7,238.9 1387.9,237.9 1389.1,239.2 1390.2,238.4 1391.4,238.4 1392.5,238.3 1393.6,238 1394.8,238.2 1395.9,238 1397,238.5 1398.1,238.1 1399.2,238.4 1400.3,238.4 1401.4,237.9 1402.5,238.3 1403.5,238 1404.6,237.9 1405.7,238.8 1406.8,237.7 1407.8,238 1408.9,238.2 1409.9,237.4 1411,237.9 1412,237.8 1413.1,237.8 1414.1,238 1415.1,238.1 1416.2,238.1 1417.1,237 1418.2,237.7 1419.2,237.7 1420.2,237.7 1421.2,237.7 1422.2,237.7 1423.2,238 1424.1,237.4 1425.1,238 1426.1,236.9 1427.1,237.4 1428,237.8 1429,236.9 1430,237.2 1430.9,237.1 1431.9,237.1 1432.8,237.8 1433.7,237.2 1434.7,237.5 1435.6,237.8 1436.6,237.1 1437.4,237.1 1438.4,237.5 1439.3,237.3 1440.2,237.3 1441.1,236.8 1442,237.5 1442.9,237 1443.8,236.9 1444.7,237.2 1445.6,237.2 1446.5,237.8 1447.4,236.6 1448.2,236.7 1449.2,236.9 1450,237.4 1450.9,236.5 1451.8,237.2 1452.6,236.9 1453.4,237 1454.3,236.6 1455.2,236.9 1456,236.7 1456.9,236.4 1457.7,236.3 1458.6,237 1459.4,236.8 1460.2,236.4 1461,236.5 1461.9,235.8 1462.7,235.7 1463.5,235.8 1464.3,236.1 1465.2,235.7 1466,236.6 1466.8,236.3 1467.5,235.6 1468.4,236.1 1469.2,236.4 1470.4,236.2 1471.1,236.1 1471.9,235.5 1472.7,236 1473.5,235.8 1474.3,236.1 1475.1,235.7 1475.8,236 1476.6,236.4 1477.7,236.3 1478.9,235.4 1479.7,235.5 1480.8,236 1481.6,236.1 1482.6,235.5 1483.4,235.3 1484.2,235.6 1485.3,235.7 1486,236.2 1487.1,235.4 1488.2,234.7 1489.3,236.2 1490.4,236.1 1491.5,235.8 1492.5,235.9 1493.6,235.9 1494.7,235.9 1495.8,236.3 1496.8,236.3 1497.9,236.4 1498.9,236.1 1499.9,235.6 1501,236.4 1502,236 1503,236.6 1504,236.2 1505.1,236.5 1506,237.1 1507.1,236.5 1508.1,236.8 1509.1,235.9 1510.1,236.8 1511.1,236.7 1512,236.4 1513,236 1514,236.9 1515,236.8 1515.9,236.4 1516.9,237 1517.8,236.6 1518.8,236.3 1519.7,236.8 1520.7,236.8 1521.6,237.4 1522.5,236.6 1523.5,236.7 1524.4,236.4 1525.3,236.9 1526.3,236.7 1527.2,236.6 1528.1,236.6 1529,237 1529.9,236.6 1530.8,237.2 1531.7,237 1532.6,237.3 1533.5,236.7 1534.4,236.7 1535.3,237.7 1536.1,237.7 1537,237.8 1537.9,238.3 1538.7,237.4 1539.6,237.6 1540.5,237.7 1541.3,237.7 1542.2,237.9 1543,238 1543.9,238.2 1544.7,238.8 1545.6,237.5 1546.4,237 1547.2,238.3 1548.1,238.9 1548.9,238.3 1549.7,238.4 1550.5,238.5 1551.4,238.4 1552.2,238.6 1553,238.8 1553.8,238.7 1554.6,239.4 1555.4,238.6 1556.2,239 1557,238.8 1557.8,238.7 1558.6,239.4 1559.4,239 1560.2,239.1 1560.9,239.6 1561.7,239.4 1562.5,239.2 1563.3,239.5 1564.1,239.7 1564.8,239.3 1565.6,239 1566.4,238.8 1567.1,239.5 1567.9,239.8 1568.7,239.9 1569.6,240.3 1570.4,240.2 1571.1,240.6 1572.1,240.1 1573.1,240.4 1574.1,240.7 1575.1,240 1575.8,241.2 1576.8,240.5 1577.5,240.5 1578.5,240.4 1579.4,240.2 1580.4,240.8 1581.4,240.7 1582.3,240.5 1583.2,240.5 1584.2,241.5 1585.1,240.4 1586,240.9 1587,240.7 1587.9,241.3 1588.8,241.9 1589.7,240.6 1590.6,240.3 1591.5,241 1592.4,241.1 1593.3,240.9 1594.2,241.2 1595.1,241.3 1596,241.2 1596.9,241.5 1597.8,241.8 1598.7,241.2 1599.5,241.5 1600.4,241.2 1601.3,241.9 1602.1,241.4 1603,242 1603.8,241.6 1604.7,241.3 1605.6,241.6 1606.4,241.3 1607.3,241.4 1608.1,241.2 1608.9,240.9 1609.8,240.9 1610.6,240.9 1611.4,240.4 1612.3,240.8 1613.1,241.4 1613.9,240.4 1614.7,241.5 1615.5,241 1616.3,240.9 1617.1,241.2 1617.9,240.4 1618.7,241.3 1619.5,241 1620.3,240.5 1621.1,241.5 1621.9,240.8 1622.7,240.1 1623.5,240.6 1624.2,240.5 1625,240.4 1625.8,240.6 1626.6,239.6 1627.3,240.1 1628.1,240 1628.9,240.3 1629.6,240.5 1630.4,240.7 1631.1,240.1 1632.1,240.6 1632.8,240.3 1633.8,240.2 1634.5,240.2 1635.4,240.4 1636.3,240.7 1637.3,239.7 1638.2,239.5 1639.1,240.1 1640,239.3 1640.9,239.7 1641.8,240.5 1642.7,240.1 1643.6,239.5 1644.5,239.4 1645.4,239.4 1646.2,239.2 1647.1,238.8 1648,239.1 1648.9,239 1649.7,238.9 1650.6,239.6 1651.4,239.1 1652.3,238.3 1653.2,239 1654,238.9 1654.9,238.5 1655.7,237.8 1656.5,238.4 1657.4,239.1 1658.2,237.7 1659,238.4 1659.9,238.4 1660.7,236.9 1661.5,238.2 1662.3,237.2 1663.1,237.4 1663.9,237.4 1664.8,237.4 1665.6,237.2 1666.4,236.9 1667.2,237.1 1668,236.8 1668.7,236.6 1669.6,235.8 1670.3,235.9 1671.1,236.5 1671.9,236.4 1672.7,236.3 1673.5,236.2 1674.2,236.1 1675,236 1675.8,236.1 1676.5,236 1677.3,236.3 1678.1,235.9 1678.8,235.5 1679.7,235.3 1680.6,235.8 1681.5,236.1 1682.4,235.7 1683.3,235.4 1684.2,236.1 1685.1,235.9 1686,236.5 1686.8,235.7 1687.7,235.5 1688.6,235.6 1689.4,236 1690.3,236 1691.2,236.2 1692,235 1692.9,235.7 1693.7,235.5 1694.6,235.1 1695.4,235.8 1696.2,235.9 1697.1,236 1697.9,235.4 1698.7,236 1699.6,235.9 1700.4,236.2 1701.2,235.3 1702,235.5 1702.8,235.8 1703.6,235.4 1704.5,235.6 1705.2,235.6 1706.1,235.3 1706.9,235.3 1707.7,235.6 1708.4,235.9 1709.2,235.8 1710,235.8 1710.8,236.1 1711.6,236 1712.4,235.9 1713.1,235.8 1713.9,235.4 1714.7,234.9 1715.5,235.2 1716.2,235.3 1717,235.6 1717.7,235.9 1718.6,235.7 1719.4,235.9 1720.2,235.8 1721.1,235.4 1722,235.7 1722.9,236.2 1723.7,235.1 1724.6,235.9 1725.4,235.5 1726.1,235.8 1726.3,235.4 1726.4,235.6 1726.5,235.8" fill="none" stroke="none" marker-start="url(#m8)" marker-mid="url(#m8)" marker-end="url(#m8)"/>
<polyline points="351.4,124.5 409.5,178.7 455.6,186 494.3,186.4 530.6,191.8 556.7,193 582,192.8 607.7,194.7 627.6,198.2 645,198 661.4,197.7 679.2,197.8 693.3,198.6 707,198.5 719.3,199 732.4,199.7 743.9,200.5 755.2,200.6 765.4,201 776.2,201.2 785.1,201.3 793.2,201.6 802.7,201.6 810.8,201.4 819,201.6 827.1,201.5 834.9,201.5 841.9,201.8 849,202.2 856.3,201.6 863.1,201.9 869.9,202.3 876.4,202.2 882,202.8 888.4,203 893.6,202.9 899.5,202.6 905.2,201.6 910.4,201.7 915.6,200.7 920.7,202.3 925.8,201.5 930.3,201.5 935,201.3 939.6,200.8 944.4,200.3 949,200.9 953.2,201.2 957.3,200.9 961.4,200.2 965.5,199.3 969.6,199.6 973.6,199.8 977.8,199.3 981.3,199.3 985.1,199.5 989.1,199.9 992.7,199 996.3,198.5 999.5,199 1003.3,199.1 1006.6,199.4 1010.1,199 1013.3,198.8 1016.4,199.4 1019.5,198.8 1022.7,199.6 1025.8,199.5 1029,199.8 1032.2,199.7 1035.1,199.2 1037.9,199.8 1040.8,199.7 1043.7,199.8 1046.5,199.3 1049.4,199.5 1052.2,199.7 1054.7,199.3 1057.6,199.3 1060.2,199.1 1062.8,199.1 1065.5,199.1 1067.9,198.9 1070.4,199.1 1073,199.1 1075.5,199.6 1078,199 1080.4,198.6 1082.7,199.3 1085,198.9 1087.5,198.8 1089.7,198.7 1091.9,199 1094.4,198.9 1096.5,199.1 1098.8,199.1 1100.8,198.8 1103.1,199.2 1105.4,198.4 1107.3,199.1 1109.4,198.9 1111.5,198.5 1113.7,199 1115.7,198.6 1117.7,198.3 1119.8,198.6 1121.8,198.9 1123.7,198.5 1125.8,199.3 1127.6,198.9 1129.4,198.4 1131.4,198.5 1133.2,198.2 1135.2,198.7 1137.2,197.8 1138.8,198.1 1140.7,198.6 1142.5,197.7 1144.4,198.9 1146.1,198.5 1147.9,198.8 1149.7,198.6 1151.3,198 1153.1,198 1154.8,198.5 1156.4,198 1158.2,198.1 1159.9,198 1161.6,197.7 1163.1,197.8 1164.8,198.1 1166.5,197.7 1168.1,197.8 1169.7,198.6 1171.2,198 1172.7,197.4 1174.3,197.1 1175.9,198.2 1177.5,197.8 1179,197.7 1180.4,197.7 1181.9,197.5 1183.5,197.9 1185,197.1 1186.4,196.8 1188,197.3 1189.4,197.1 1190.8,197.2 1192.2,197.3 1193.6,197 1195.1,197.4 1196.5,197.2 1198,196.6 1199.3,197 1200.7,196.3 1202,197.2 1203.5,196 1204.7,196.9 1206.1,196.7 1207.4,196.8 1208.8,196.6 1210.1,196.3 1211.5,195.7 1212.8,196.2 1214,196.1 1215.3,197 1216.7,196.2 1217.9,196.3 1219.1,195.7 1220.4,196.5 1221.6,196.3 1223,196.3 1224.2,196 1225.4,196.5 1226.6,195.3 1227.8,196.2 1229.1,196.7 1230.3,196 1231.5,196.4 1232.6,196.2 1233.9,196.5 1235,196.2 1236.2,196.3 1237.4,196.7 1238.5,196.2 1239.7,195.9 1240.8,196.7 1242,196.4 1243.1,196.4 1244.2,196.8 1245.3,196.5 1246.5,196.4 1247.6,196.1 1248.6,196 1249.8,196.2 1250.8,196.5 1252,196.3 1253,196 1254.2,196.7 1255.2,196.2 1256.3,196 1257.4,196.2 1258.5,196.2 1259.5,197.3 1260.6,196.6 1261.6,196.2 1262.5,196.4 1263.6,196.5 1264.6,196.6 1265.6,195.9 1266.7,196.6 1267.7,196.8 1268.8,196 1269.7,195.9 1270.8,196.9 1271.7,196.6 1272.7,196.2 1273.7,196.3 1274.7,196.1 1275.6,196.5 1276.6,196.4 1277.5,196.5 1278.5,196.3 1279.5,196.1 1280.4,196.5 1281.4,196.4 1282.3,196.2 1283.4,196.2 1284.2,196.4 1285.2,196.1 1286.1,196 1287,195.6 1287.9,196.7 1288.9,195.9 1289.8,196.6 1290.7,196.4 1291.6,196.4 1292.5,196.1 1293.4,196.6 1294.2,196.9 1295.1,196.3 1296.1,196 1296.9,196.2 1297.8,196.2 1298.7,196.7 1299.6,196.3 1300.4,196.3 1301.3,196.2 1302.3,196.7 1303.1,196.4 1303.9,196.7 1304.8,196.2 1305.6,195.4 1306.5,197 1307.3,196.7 1308.2,195.7 1309.8,196.6 1310.6,196.2 1311.5,196.5 1312.3,195.9 1313.1,196.3 1313.9,196.6 1314.7,195.8 1315.6,196.2 1316.4,196.3 1317.2,196.1 1318.8,196.2 1319.6,196.2 1320.4,196.2 1321.9,196 1322.7,196.1 1323.5,196.1 1324.3,196.7 1325.9,195.9 1326.7,196.2 1328.2,196.2 1329.7,196.5 1330.5,196 1331.9,196.1 1332.7,196.3 1334.2,195.8 1335,196.4 1335.7,196.8 1337.1,195.9 1337.9,196.3 1339.3,196.4 1340.8,196.4 1342.2,196.6 1343.6,196.1 1345.1,196.7 1346.5,196.1 1347.9,196.3 1349.3,196.4 1350.6,197 1352,196.3 1353.4,196.3 1354.8,196.6 1356.1,196.6 1357.4,197 1358.8,196.3 1360.1,196.9 1361.4,196.8 1362.7,196.3 1364,197.1 1365.3,196.3 1366.6,196.4 1367.8,196.3 1369.1,196.5 1370.4,197.4 1371.7,196.5 1372.9,196.5 1374.1,196.9 1375.4,196 1376.6,196.4 1377.8,196.4 1379,196.8 1380.2,196.7 1381.4,197.2 1382.6,197.3 1383.8,197.5 1385,196.7 1386.2,196.9 1387.3,196.8 1388.5,196.9 1389.6,196.9 1390.8,196.6 1392,196.8 1393,196.6 1394.2,197 1395.3,196.6 1396.4,197 1397.5,196.1 1398.6,196.8 1399.7,196.7 1400.8,196.2 1402,196.9 1403,196.6 1404.1,196.8 1405.2,196.6 1406.3,196.2 1407.3,196.4 1408.4,196.1 1409.4,196.7 1410.5,196.6 1411.5,196.4 1412.6,196.8 1413.6,196.2 1414.6,196.3 1415.6,196.3 1416.6,196.2 1417.7,196.6 1418.7,196.3 1419.7,196.2 1420.7,196 1421.7,196.1 1422.7,196.5 1423.6,196.6 1424.6,196.7 1425.6,195.8 1426.6,196.2 1427.5,196.2 1428.5,195.9 1429.5,195.8 1430.5,195.2 1431.4,195.7 1432.3,196.3 1433.3,195.4 1434.2,195.7 1435.2,195.1 1436,195.9 1437,196.2 1437.9,196 1438.9,195.7 1439.8,195.6 1440.7,196.1 1441.6,195.2 1442.5,196.4 1443.4,196 1444.3,195.6 1445.1,195.6 1446,195.1 1446.9,195.7 1447.8,195.7 1448.7,195.4 1449.6,195.4 1450.4,195.3 1451.3,195.6 1452.2,195.5 1453,195.4 1453.9,195.2 1454.7,195.9 1455.6,195.6 1456.4,195.2 1457.3,195.2 1458.1,195.9 1459,196.1 1459.8,195.3 1460.6,195.5 1461.5,195.1 1462.3,195.3 1463.1,195.2 1463.9,195.4 1464.7,195 1465.5,196 1466.3,195.1 1467.1,195.2 1467.9,195 1468.8,194.9 1470,194.9 1470.8,195.5 1471.6,196.1 1472.3,194.8 1473.1,195.1 1473.9,194.7 1474.7,194.7 1475.4,194.9 1476.2,195.1 1477,194.4 1477.7,194.8 1478.5,195 1479.3,195.2 1480.1,195 1481.2,195 1482.3,194.9 1483.4,194.9 1484.5,195.9 1485.6,194.8 1486.7,195.1 1487.5,195.6 1488.6,195.5 1489.7,195.2 1490.8,194.6 1491.8,195 1492.9,194.9 1494,194.8 1495,195 1496.1,194.9 1497.1,195.1 1498.2,194.6 1499.3,194.8 1500.3,195.2 1501.3,195.5 1502.3,194.7 1503.4,194.5 1504.4,194.7 1505.4,194.6 1506.4,195.4 1507.4,194.8 1508.4,195.2 1509.4,194.5 1510.4,194.8 1511.4,195.1 1512.4,194.8 1513.3,194.7 1514.3,194.9 1515.3,194.6 1516.2,195.4 1517.2,194.6 1518.2,195.2 1519.1,195 1520,194.2 1521,194.7 1521.9,194.6 1522.9,194.8 1523.8,194.7 1524.7,194.7 1525.6,194.5 1526.6,194.7 1527.5,194.6 1528.4,194.5 1529.3,194.6 1530.2,194.9 1531.1,194.2 1532,194.2 1532.9,194.4 1533.8,194.2 1534.7,194.6 1535.5,194.3 1536.4,194.5 1537.3,194.1 1538.2,194.3 1539,194.8 1539.9,194.3 1540.8,194.9 1541.6,194.7 1542.5,194 1543.3,194.3 1544.2,193.9 1545,194.2 1545.8,194.4 1546.7,194.1 1547.5,194.5 1548.4,193.9 1549.2,194 1550,193.9 1550.8,193.6 1551.6,193.9 1552.5,193.9 1553.3,193.7 1554.1,193.5 1554.9,194.1 1555.7,193.9 1556.5,194.1 1557.3,194.1 1558.1,193.9 1558.9,193.4 1559.7,193.5 1560.4,194.1 1561.2,193.3 1562,193.5 1562.8,192.9 1563.6,193.7 1564.3,194.1 1565.3,193.6 1566.1,193.7 1566.9,193.2 1567.6,193 1568.4,193 1569.1,193.1 1569.9,192.9 1570.9,193.6 1571.6,193.4 1572.6,193 1573.6,193.2 1574.6,193 1575.6,192.7 1576.6,193.3 1577.5,192.6 1578.5,193 1579.4,192.6 1580.4,192.9 1581.4,192.7 1582.3,192.8 1583.2,193.1 1584.2,192.1 1585.1,193 1586,192.1 1587,192.5 1587.9,192.2 1588.8,192.8 1589.7,192.1 1590.6,192.2 1591.5,191.5 1592.4,191.6 1593.3,192.5 1594.2,192.3 1595.1,192.1 1596,192 1596.9,191.9 1597.8,191.8 1598.7,191.8 1599.5,191.4 1600.4,191.7 1601.3,191.3 1602.1,191.5 1603,191.3 1603.8,192.1 1604.7,190.9 1605.6,191.5 1606.4,191.6 1607.2,190.8 1608.1,191.1 1608.9,190.7 1609.8,191.2 1610.6,190.9 1611.4,191 1612.2,190.6 1613.1,190.8 1613.9,191 1614.7,190.7 1615.5,190.6 1616.3,190.8 1617.1,190.3 1617.9,190.5 1618.7,191 1619.5,189.7 1620.3,190.3 1621.1,189.8 1621.9,189.5 1622.7,190.1 1623.5,190.3 1624.2,189.8 1625,190 1625.8,189.9 1626.6,190.2 1627.3,189.6 1628.1,190.4 1628.9,189.6 1629.8,190.2 1630.6,190.6 1631.5,189.7 1632.3,189.6 1633.2,190.4 1634.1,190.4 1635.1,189.7 1636,189.9 1636.9,191 1637.8,190.9 1638.7,190.3 1639.6,190 1640.5,190.1 1641.4,190.5 1642.3,190.4 1643.2,190.7 1644.1,190.8 1645,190.3 1645.9,190.9 1646.8,190.7 1647.6,190.4 1648.5,190.6 1649.4,191.3 1650.2,191.4 1651.1,191.3 1652,191.1 1652.8,191.1 1653.7,191.4 1654.5,192.2 1655.4,191.8 1656.2,191.9 1657,191.7 1657.9,192.2 1658.7,191.4 1659.5,191.7 1660.4,191.3 1661.2,191.7 1662,192.2 1662.8,192.7 1663.6,192.8 1664.4,192.1 1665.2,192.8 1666.1,192.4 1666.9,192.9 1667.7,193.1 1668.4,192.9 1669.2,192.9 1670,193 1670.8,192.9 1671.6,192.6 1672.4,193.2 1673.1,193.4 1673.9,193.3 1674.7,193.5 1675.5,193.3 1676.2,192.8 1677,193.6 1677.8,193.3 1678.5,193.2 1679.3,193.6 1680.2,193.6 1681.1,193.3 1681.8,193.7 1682.7,193.4 1683.6,193.8 1684.5,193.3 1685.4,193.5 1686.2,193.8 1687.1,194.1 1688,193.8 1688.9,193.7 1689.7,193.7 1690.6,193.4 1691.4,193.1 1692.3,193.9 1693.2,193.8 1694,193.1 1694.8,193.4 1695.7,193.7 1696.5,193.4 1697.3,193.5 1698.2,193.6 1699,193.9 1699.8,194.1 1700.7,193.4 1701.5,193.6 1702.3,194 1703.1,193.8 1703.9,193.6 1704.7,193.2 1705.5,193.9 1706.3,192.9 1707.1,193.7 1707.9,193.6 1708.7,193.5 1709.5,193.6 1710.3,193.6 1711.1,193.6 1711.8,193 1712.6,193.2 1713.4,193.7 1714.2,193.7 1714.9,193.3 1715.7,192.7 1716.5,193.4 1717.2,193.4 1718,194.4 1718.7,193 1719.6,192.3 1720.4,193.9 1721.2,193.9 1722,193.5 1722.8,192.9 1723.7,193.5 1724.6,193.4 1725.4,193.8 1726.2,193.3 1726.3,193.2 1726.4,193.1 1726.5,194.2" fill="none" stroke="none" marker-start="url(#m9)" marker-mid="url(#m9)" marker-end="url(#m9)"/>
<use href="#sph2" x="257.5" y="50.2"/><use href="#sph2" x="351.4" y="134.6"/><use href="#sph2" x="409.5" y="138.3"/><use href="#sph2" x="455.6" y="139.3"/><use href="#sph2" x="494.3" y="140.4"/><use href="#sph2" x="530.6" y="142"/><use href="#sph2" x="556.7" y="142.6"/><use href="#sph2" x="582" y="142.9"/><use href="#sph2" x="607.7" y="140.5"/><use href="#sph2" x="627.6" y="142.3"/><use href="#sph2" x="645" y="139.9"/><use href="#sph2" x="661.4" y="140.9"/><use href="#sph2" x="679.2" y="141.9"/><use href="#sph2" x="693.3" y="140.7"/><use href="#sph2" x="707" y="143.7"/><use href="#sph2" x="719.3" y="142.9"/><use href="#sph2" x="732.4" y="143.1"/><use href="#sph2" x="743.9" y="141"/><use href="#sph2" x="755.2" y="142.8"/><use href="#sph2" x="765.4" y="139.3"/>
<polyline points="776.2,138 785.1,139.1 793.2,138.9 802.7,137.4 810.8,135.7 819,137.2 827.1,138.1 834.9,136.5 841.9,138.8 849,138.1 856.9,139 863.2,138 870.1,139.4 876.2,140.7 882.1,139.8 887.9,140.6 893.9,140.1 899.2,139.4 904.7,137 910,137.2 915.2,137.5 920.6,136 925.4,136.5 930.3,136.5 935,137.9 939.5,138.4 944.3,136.9 949,138.3 953.4,136.2 957.5,137.4 961.8,135.9 965.8,135.5 969.7,137 973.8,134.4 977.5,134.7 981.7,136.4 985.3,135.6 989.1,135 992.8,136 996.2,135.2 999.6,134.7 1003.3,134.2 1006.6,134.3 1009.9,134.6 1013.4,134.1 1016.6,135.2 1019.9,134.8 1023,132.7 1025.8,135.9 1029.1,133.7 1031.9,135.6 1034.9,134 1037.8,134.8 1040.9,134.5 1043.6,133.7 1046.7,133 1049.3,132.1 1052.1,132.2 1054.8,134.7 1057.7,134 1060.1,133 1062.9,132.9 1065.4,133.5 1067.9,132.8 1070.4,133.2 1072.9,133.3 1075.3,133.5 1077.9,132.5 1080.2,134.1 1082.6,135.3 1085.1,133.2 1087.4,132.5 1089.7,133.7 1092,133.2 1094.3,133.1 1096.5,132.6 1098.8,133.3 1100.8,133.4 1103.1,130.9 1105.1,133.6 1107.4,133.6 1109.4,133.4 1111.6,131 1113.6,132.7 1115.7,132.5 1117.8,131.7 1119.7,133 1121.6,133.2 1123.8,133.2 1125.7,133.6 1127.6,133.1 1129.6,132.1 1131.5,131.5 1133.2,131.8 1135.3,132.6 1137.2,132.5 1138.9,133.1 1140.7,132.4 1142.5,131.7 1144.3,133.1 1146.1,133.4 1147.9,132.4 1149.6,131.8 1151.4,129.1 1153.1,131.1 1154.9,130.7 1156.5,132.9 1158.1,132.4 1159.8,132.3 1161.5,132.3 1163.2,132.4 1164.7,131.1 1166.5,131 1168.1,132 1169.6,133.5 1171.3,132.5 1172.9,132.4 1174.4,131.9 1175.9,130.8 1177.5,130.8 1179,130.6 1180.5,131.3 1182,131.3 1183.4,131.1 1185.1,129.8 1186.5,131.5 1187.9,132.1 1189.4,130.8 1190.8,129.9 1192.2,132.4 1193.7,130.7 1195,131.5 1196.6,131.4 1197.9,131 1199.3,131.1 1200.8,130.8 1202.1,133.1 1203.4,133.4 1204.8,130.9 1206.1,130.3 1207.4,131.8 1208.7,129.9 1210.1,131.1 1211.5,130.5 1212.8,130.5 1214.1,132 1215.4,131.4 1216.6,130.4 1218,131 1219.1,130.4 1220.5,131.4 1221.6,130.9 1222.9,131.6 1224.2,131 1225.4,130.1 1226.7,131.1 1227.8,130.5 1229.1,130.9 1230.3,131.4 1231.5,130 1232.7,131.1 1233.8,131.5 1235,129.5 1236.1,129.6 1237.4,130.6 1238.6,128.7 1239.7,131.6 1240.8,131.3 1241.9,130.8 1243,131.3 1244.2,128 1245.3,130 1246.4,131.4 1247.6,132.1 1248.7,132.2 1249.8,130.6 1250.9,130.3 1252,131.5 1253,127.8 1254.2,130.1 1255.1,130.9 1256.3,130.9 1257.3,128.8 1258.4,129.7 1259.5,130.4 1260.4,130.7 1261.6,130.6 1262.6,129.9 1263.6,130.8 1264.6,131.6 1265.7,132.3 1266.7,132.1 1267.7,129 1268.7,130.6 1269.7,129.5 1270.7,129.7 1271.7,128.9 1272.6,130.6 1273.7,130.6 1274.7,130.2 1275.6,129.6 1276.6,131.3 1277.6,129.8 1278.5,130.4 1279.5,128.8 1280.4,130.2 1281.4,129.5 1282.4,130.2 1283.3,130.8 1284.2,129.8 1285.2,130.5 1286.2,131.1 1287,130 1287.9,127.6 1288.9,129.3 1289.8,128.5 1290.7,128.6 1291.6,130.5 1292.5,130 1293.4,130.3 1294.3,129.6 1295.2,129.5 1296.1,128.2 1296.9,127.6 1297.8,128.7 1298.7,128.2 1299.5,128.2 1300.5,128.9 1301.3,128.1 1302.2,128.8 1303,127.5 1303.9,129.3 1304.8,129.5 1305.6,129.1 1306.5,128 1307.3,128.8 1308.1,127.2 1309,128.4 1309.8,128.6 1310.7,129.1 1311.5,130 1312.3,129.9 1313.1,128.5 1314,129.2 1314.8,128.4 1316.4,127.6 1317.2,129.2 1318,128.8 1319.5,128.8 1320.3,127.5 1321.2,126.6 1321.9,128.8 1322.7,129.3 1323.6,128.7 1325.1,127.8 1325.9,127.9 1327.4,128.1 1328.2,128.4 1328.9,128.1 1330.4,129 1331.9,129.2 1332.7,130 1334.2,127.7 1334.9,128.8 1336.5,129.6 1337.9,128.4 1339.4,128.4 1340.8,128.5 1342.2,127.7 1343.7,129.5 1345.1,127.9 1346.5,128.1 1347.9,126.4 1349.3,128.3 1350.6,128.6 1352,128.7 1353.4,129.2 1354.7,127 1356.1,129.5 1357.5,127.4 1358.8,128.1 1360.1,127.2 1361.4,127.4 1362.7,127 1364,128.5 1365.3,127.9 1366.6,126.7 1367.9,127.5 1369.1,129.1 1370.4,126 1371.7,126.8 1372.9,126.3 1374.2,127.1 1375.4,127.4 1376.6,126.4 1377.8,127 1379,126.7 1380.3,127.4 1381.4,127 1382.6,128.1 1383.8,125.8 1385,126.2 1386.2,127.3 1387.3,127.7 1388.5,128.2 1389.7,125.9 1390.8,127.6 1391.9,126.7 1393.1,127 1394.2,126.1 1395.3,126.6 1396.4,127.3 1397.6,126.8 1398.7,126.9 1399.8,126.4 1400.9,127.2 1402,126.6 1403.1,125.6 1404.1,125.8 1405.2,126.2 1406.2,126.5 1407.3,127.2 1408.4,125.7 1409.4,125.5 1410.5,126.9 1411.5,126.5 1412.5,125.1 1413.6,128 1414.6,123.7 1415.6,126.3 1416.7,127.4 1417.7,125 1418.7,127 1419.6,127.3 1420.7,128.9 1421.7,125 1422.7,127.4 1423.6,127 1424.7,127.6 1425.6,127.4 1426.6,124.7 1427.5,125 1428.5,127.2 1429.5,126.2 1430.5,126 1431.4,125 1432.3,125.6 1433.2,126.4 1434.2,125.2 1435.2,125.2 1436.1,127.3 1437,126.3 1437.9,126.2 1438.8,126.2 1439.8,128.2 1440.7,126 1441.5,125.5 1442.5,125 1443.4,126.9 1444.3,125.8 1445.1,126.7 1446.1,126 1446.9,127.3 1447.8,126.8 1448.7,125.8 1449.6,126.4 1450.4,127.1 1451.3,125.5 1452.2,125.3 1453,126.2 1453.9,125.8 1454.7,125.8 1455.6,126.6 1456.5,124.7 1457.3,125.8 1458.1,125.3 1459,127 1459.8,124 1460.6,125.8 1461.4,126.4 1462.3,127.2 1463.1,126.4 1463.9,124.8 1464.7,125 1465.6,124.8 1466.3,125.4 1467.2,126 1467.9,125.3 1468.8,125.5 1469.5,125.6 1470.3,125.1 1471.1,124.9 1471.9,126.3 1472.7,124.3 1473.5,125.6 1474.3,126.2 1475,126.3 1475.8,124.7 1476.6,124.3 1477.4,124.3 1478.1,126.1 1478.9,124.9 1479.7,125 1480.4,125.2 1481.2,123.3 1482.3,125.6 1483.1,124.3 1484.2,123.8 1485.3,125 1486,123.5 1487.1,124 1488.2,125.3 1489.3,125.1 1490.4,123.1 1491.5,125.3 1492.6,125.5 1493.6,123.3 1494.7,122.7 1495.7,126 1496.8,123 1497.8,123.6 1498.9,124 1499.9,123.8 1501,123.4 1502,123.9 1503,122 1504,125.3 1505,123.2 1506.1,123.5 1507.1,123 1508.1,125.4 1509.1,124.5 1510,124 1511.1,123.2 1512,122.8 1513,122.6 1514,123 1515,122.4 1515.9,123.8 1516.9,123 1517.8,123.6 1518.8,123.2 1519.7,122.7 1520.7,124.6 1521.6,123.2 1522.6,122.1 1523.5,124.2 1524.4,123.4 1525.3,123.1 1526.3,124.1 1527.2,122.3 1528.1,121.9 1529,121.9 1529.9,124.1 1530.8,121.4 1531.7,123.4 1532.6,122.1 1533.5,122.8 1534.4,121.2 1535.3,122.7 1536.1,123 1537,123.1 1537.9,122.4 1538.7,123.2 1539.6,122.1 1540.5,121.8 1541.3,122.9 1542.2,122.8 1543,122.2 1543.9,121.5 1544.7,121.3 1545.6,122.2 1546.4,122.9 1547.2,122.3 1548.1,124 1548.9,121.6 1549.7,121.6 1550.6,122.6 1551.4,124.2 1552.2,122.9 1553,123.4 1553.8,122 1554.6,122 1555.4,122.5 1556.2,122.1 1557,122.4 1557.8,122.5 1558.6,122.3 1559.4,121.6 1560.2,122.8 1561,123.1 1561.7,120.7 1562.5,122.2 1563.3,123.5 1564.3,122 1565.1,122 1565.9,123.8 1566.6,121.9 1567.4,122.6 1568.1,121 1569.2,121.7 1570.2,122.4 1571.1,123.7 1572.1,120.8 1573.1,123.8 1574.1,122.8 1575.1,122.6 1576.1,121.4 1577,121.3 1578,122.3 1579,121.3 1579.9,122.4 1580.9,121.7 1581.8,121.1 1582.8,120.9 1583.7,121.6 1584.6,121.3 1585.6,121.6 1586.5,121.5 1587.4,121.8 1588.4,122 1589.3,120 1590.2,122.7 1591.1,122.4 1592,122.2 1592.9,123.2 1593.8,122.4 1594.7,122.2 1595.6,121 1596.5,123.5 1597.3,121.7 1598.2,122.2 1599.1,122 1600,123.2 1600.8,121.8 1601.7,122.1 1602.6,123.8 1603.4,121.7 1604.3,123.8 1605.1,122.9 1606,122.1 1606.8,121.9 1607.7,122.8 1608.5,122.6 1609.4,123.5 1610.2,123.8 1611,122.3 1611.8,121.7 1612.6,121.7 1613.5,123.9 1614.3,122.4 1615.1,123.3 1615.9,122.2 1616.7,121.2 1617.5,123.1 1618.3,122.6 1619.1,122.7 1619.9,123.5 1620.7,121.1 1621.5,122.5 1622.3,121.6 1623.1,121.3 1623.9,121.5 1624.6,121.4 1625.4,122.6 1626.2,121.5 1626.9,122.6 1627.7,122.2 1628.5,122.9 1629.3,124.5 1630.2,121.8 1631,124.3 1631.7,122.7 1632.6,124 1633.6,124.6 1634.3,124.4 1635.3,123.3 1636.2,123.5 1637.1,124.9 1638,122.7 1638.9,123.7 1639.8,123.4 1640.7,124.8 1641.6,124.3 1642.5,125.3 1643.4,125.2 1644.3,124.7 1645.2,126.3 1646.1,125.1 1646.9,124.8 1647.8,125.2 1648.7,122.8 1649.6,126.1 1650.4,123.7 1651.3,125 1652.1,125.6 1653,124.4 1653.8,123.6 1654.7,125.3 1655.5,125.3 1656.4,125.4 1657.2,125.5 1658,125.5 1658.9,127.2 1659.7,125.8 1660.5,127.4 1661.4,124.7 1662.2,126.9 1663,127 1663.8,126.4 1664.6,124.8 1665.4,124.9 1666.2,124.4 1667,125.4 1667.8,127.2 1668.6,125.8 1669.4,125.1 1670.2,125.4 1671,125.5 1671.7,125.2 1672.5,125 1673.3,125 1674.1,126 1674.8,126.5 1675.6,124.7 1676.4,125.3 1677.1,126.1 1677.9,126 1678.7,124.9 1679.4,125.2 1680.3,124.8 1681.2,127.1 1682,125.5 1682.9,124.4 1683.8,125.8 1684.6,126.1 1685.5,125.4 1686.4,126.2 1687.3,124.7 1688.1,125 1689,124.4 1689.9,125.5 1690.7,125.5 1691.6,123.9 1692.4,124.8 1693.3,124.7 1694.1,124.2 1695,125.3 1695.8,125.9 1696.7,124.8 1697.5,124.8 1698.3,123.9 1699.2,125.2 1700,123.7 1700.8,125.7 1701.6,123.7 1702.4,124.5 1703.2,125.1 1704,124.7 1704.8,123.3 1705.6,126.1 1706.5,124 1707.2,125 1708.1,124.5 1708.8,123.9 1709.6,123.1 1710.4,125.4 1711.2,124.6 1712,124.6 1712.7,124.4 1713.5,123.2 1714.3,123.5 1715.1,124.4 1715.8,125.4 1716.6,123.4 1717.3,122.3 1718.1,123.2 1718.9,123 1719.6,122.2 1720.5,123.5 1721.4,124.3 1722.1,124.5 1723,123 1723.8,124.6 1724.7,124.2 1725.5,124.6 1726.2,124.7 1726.3,124.1 1726.4,124.7 1726.5,121.8" fill="none" stroke="none" marker-start="url(#m10)" marker-mid="url(#m10)" marker-end="url(#m10)"/>
<g fill="#d4d4f2" opacity="0.9"><circle cx="774.0" cy="136.0" r="0.9"/><circle cx="782.9" cy="135.5" r="1.0"/><circle cx="808.2" cy="131.9" r="1.1"/><circle cx="825.5" cy="136.3" r="1.0"/><circle cx="838.8" cy="135.9" r="0.7"/><circle cx="846.3" cy="134.2" r="0.9"/><circle cx="855.1" cy="136.1" r="1.0"/><circle cx="861.2" cy="135.0" r="0.8"/><circle cx="891.2" cy="136.7" r="0.7"/><circle cx="902.9" cy="133.9" r="1.2"/><circle cx="912.4" cy="135.5" r="0.9"/><circle cx="922.4" cy="133.9" r="1.1"/><circle cx="927.3" cy="133.2" r="1.2"/><circle cx="936.8" cy="134.6" r="0.7"/><circle cx="946.8" cy="135.3" r="0.8"/><circle cx="955.4" cy="133.6" r="0.9"/><circle cx="959.1" cy="134.0" r="1.1"/><circle cx="964.1" cy="131.9" r="0.9"/><circle cx="976.0" cy="131.1" r="0.8"/><circle cx="982.6" cy="131.8" r="0.7"/><circle cx="990.7" cy="132.8" r="0.9"/><circle cx="997.4" cy="132.6" r="0.8"/><circle cx="1001.7" cy="132.0" r="0.8"/><circle cx="1004.6" cy="132.4" r="0.8"/><circle cx="1016.9" cy="130.9" r="1.2"/><circle cx="1021.0" cy="129.3" r="1.1"/><circle cx="1026.3" cy="131.3" r="0.7"/><circle cx="1029.7" cy="133.5" r="1.0"/><circle cx="1033.3" cy="130.5" r="0.7"/><circle cx="1035.4" cy="130.9" r="0.8"/><circle cx="1038.8" cy="130.8" r="0.9"/><circle cx="1054.6" cy="130.0" r="1.2"/><circle cx="1063.3" cy="130.6" r="1.1"/><circle cx="1066.4" cy="129.0" r="1.0"/><circle cx="1083.1" cy="131.2" r="1.1"/><circle cx="1085.6" cy="130.4" r="1.0"/><circle cx="1089.8" cy="130.5" r="0.7"/><circle cx="1101.2" cy="128.2" r="0.9"/><circle cx="1107.5" cy="129.4" r="1.0"/><circle cx="1110.9" cy="130.2" r="0.9"/><circle cx="1118.5" cy="129.9" r="1.0"/><circle cx="1121.0" cy="131.2" r="1.0"/><circle cx="1125.9" cy="129.9" r="1.0"/><circle cx="1129.1" cy="129.3" r="1.2"/><circle cx="1135.0" cy="129.2" r="0.8"/><circle cx="1139.0" cy="130.3" r="1.1"/><circle cx="1143.3" cy="130.4" r="0.8"/><circle cx="1147.2" cy="129.2" r="0.9"/><circle cx="1151.3" cy="129.2" r="0.9"/><circle cx="1153.4" cy="130.8" r="0.7"/><circle cx="1161.3" cy="128.5" r="0.8"/><circle cx="1163.4" cy="128.9" r="0.8"/><circle cx="1166.5" cy="130.8" r="0.9"/><circle cx="1178.1" cy="127.7" r="0.7"/><circle cx="1181.4" cy="127.5" r="0.8"/><circle cx="1184.5" cy="128.7" r="1.0"/><circle cx="1189.0" cy="127.9" r="0.7"/><circle cx="1194.2" cy="128.7" r="1.2"/><circle cx="1197.1" cy="129.0" r="1.1"/><circle cx="1201.4" cy="129.9" r="1.1"/><circle cx="1208.5" cy="129.2" r="1.2"/><circle cx="1210.9" cy="127.2" r="1.2"/><circle cx="1213.7" cy="127.3" r="1.0"/><circle cx="1217.4" cy="129.2" r="0.7"/><circle cx="1221.7" cy="128.7" r="0.8"/><circle cx="1224.4" cy="128.7" r="1.1"/><circle cx="1229.9" cy="126.2" r="0.8"/><circle cx="1231.2" cy="129.1" r="1.0"/><circle cx="1234.4" cy="126.9" r="0.9"/><circle cx="1236.8" cy="126.7" r="0.8"/><circle cx="1240.9" cy="127.7" r="1.0"/><circle cx="1243.2" cy="126.1" r="1.2"/><circle cx="1245.1" cy="129.9" r="1.0"/><circle cx="1247.8" cy="126.7" r="1.0"/><circle cx="1250.5" cy="129.5" r="0.8"/><circle cx="1252.3" cy="127.9" r="1.1"/><circle cx="1256.9" cy="126.8" r="1.0"/><circle cx="1261.8" cy="126.9" r="0.8"/><circle cx="1264.7" cy="128.8" r="0.9"/><circle cx="1268.8" cy="126.0" r="1.0"/><circle cx="1270.9" cy="127.8" r="0.9"/><circle cx="1274.2" cy="128.5" r="0.8"/><circle cx="1277.4" cy="126.2" r="1.0"/><circle cx="1283.2" cy="128.3" r="1.2"/><circle cx="1285.3" cy="125.6" r="0.8"/><circle cx="1289.8" cy="127.6" r="0.8"/><circle cx="1293.4" cy="126.4" r="1.1"/><circle cx="1295.4" cy="126.2" r="0.7"/><circle cx="1298.5" cy="126.9" r="1.2"/><circle cx="1300.7" cy="125.2" r="1.0"/><circle cx="1303.5" cy="124.3" r="0.7"/><circle cx="1307.6" cy="124.9" r="0.8"/><circle cx="1310.6" cy="128.1" r="1.2"/><circle cx="1311.8" cy="126.5" r="0.9"/><circle cx="1315.7" cy="125.9" r="0.9"/><circle cx="1319.2" cy="124.4" r="0.8"/><circle cx="1321.6" cy="125.6" r="0.8"/><circle cx="1323.6" cy="123.9" r="1.1"/><circle cx="1330.6" cy="127.1" r="1.2"/><circle cx="1336.2" cy="126.0" r="1.1"/><circle cx="1340.6" cy="125.7" r="1.0"/><circle cx="1345.9" cy="122.6" r="0.9"/><circle cx="1347.5" cy="125.4" r="1.0"/><circle cx="1353.1" cy="124.4" r="0.9"/><circle cx="1357.6" cy="125.4" r="1.0"/><circle cx="1364.5" cy="124.4" r="0.8"/><circle cx="1366.1" cy="125.5" r="0.9"/><circle cx="1369.0" cy="124.8" r="1.0"/><circle cx="1372.6" cy="124.4" r="1.2"/><circle cx="1376.9" cy="124.4" r="0.7"/><circle cx="1380.3" cy="124.5" r="0.9"/><circle cx="1384.6" cy="124.2" r="1.0"/><circle cx="1387.0" cy="123.4" r="1.0"/><circle cx="1390.0" cy="123.3" r="0.7"/><circle cx="1391.2" cy="122.4" r="1.1"/><circle cx="1394.7" cy="124.9" r="0.7"/><circle cx="1399.2" cy="124.2" r="0.9"/><circle cx="1402.9" cy="124.3" r="1.1"/><circle cx="1406.9" cy="123.5" r="1.0"/><circle cx="1409.4" cy="123.5" r="0.8"/><circle cx="1412.4" cy="120.0" r="0.9"/><circle cx="1416.0" cy="124.2" r="0.9"/><circle cx="1421.2" cy="125.5" r="1.1"/><circle cx="1422.7" cy="125.4" r="1.1"/><circle cx="1426.8" cy="123.7" r="1.0"/><circle cx="1432.5" cy="123.4" r="1.2"/><circle cx="1435.8" cy="122.8" r="0.9"/><circle cx="1440.2" cy="121.1" r="0.7"/><circle cx="1445.5" cy="123.3" r="0.9"/><circle cx="1449.3" cy="123.0" r="1.0"/><circle cx="1453.2" cy="123.1" r="1.1"/><circle cx="1456.1" cy="123.5" r="0.9"/><circle cx="1458.7" cy="123.8" r="0.9"/><circle cx="1460.1" cy="124.3" r="0.7"/><circle cx="1463.4" cy="121.9" r="1.0"/><circle cx="1466.1" cy="121.5" r="0.8"/><circle cx="1468.5" cy="122.5" r="1.0"/><circle cx="1470.6" cy="122.3" r="1.1"/><circle cx="1472.9" cy="122.3" r="1.0"/><circle cx="1478.6" cy="121.8" r="0.9"/><circle cx="1481.5" cy="122.3" r="0.8"/><circle cx="1482.8" cy="121.8" r="0.9"/><circle cx="1485.4" cy="122.6" r="1.1"/><circle cx="1489.7" cy="122.6" r="0.8"/><circle cx="1493.7" cy="120.2" r="1.0"/><circle cx="1501.8" cy="123.0" r="0.7"/><circle cx="1505.1" cy="120.9" r="0.7"/><circle cx="1509.1" cy="120.7" r="0.8"/><circle cx="1512.1" cy="120.2" r="1.1"/><circle cx="1514.3" cy="121.2" r="1.0"/><circle cx="1517.5" cy="120.3" r="1.1"/><circle cx="1521.7" cy="121.7" r="1.1"/><circle cx="1528.8" cy="119.2" r="0.9"/><circle cx="1530.6" cy="120.5" r="1.2"/><circle cx="1533.3" cy="119.4" r="0.9"/><circle cx="1537.2" cy="119.3" r="0.9"/><circle cx="1539.3" cy="120.6" r="0.8"/><circle cx="1541.5" cy="118.8" r="1.2"/><circle cx="1543.5" cy="119.3" r="0.8"/><circle cx="1546.9" cy="118.9" r="0.8"/><circle cx="1548.7" cy="120.6" r="1.1"/><circle cx="1551.6" cy="119.8" r="0.9"/><circle cx="1554.5" cy="120.1" r="0.9"/><circle cx="1557.0" cy="119.3" r="0.8"/><circle cx="1559.4" cy="120.9" r="0.9"/><circle cx="1561.0" cy="120.1" r="1.2"/><circle cx="1563.5" cy="118.9" r="0.9"/><circle cx="1569.3" cy="117.5" r="0.8"/><circle cx="1574.0" cy="119.6" r="0.8"/><circle cx="1576.1" cy="119.0" r="0.7"/><circle cx="1582.0" cy="118.9" r="0.7"/><circle cx="1585.1" cy="119.9" r="1.0"/><circle cx="1589.3" cy="119.3" r="1.2"/><circle cx="1592.0" cy="118.9" r="1.0"/><circle cx="1593.6" cy="121.3" r="0.9"/><circle cx="1596.1" cy="118.6" r="0.9"/><circle cx="1600.6" cy="120.0" r="0.9"/><circle cx="1603.6" cy="120.7" r="1.0"/><circle cx="1605.2" cy="120.4" r="0.8"/><circle cx="1607.9" cy="120.5" r="1.1"/><circle cx="1611.4" cy="120.5" r="0.9"/><circle cx="1613.3" cy="119.0" r="0.9"/><circle cx="1616.3" cy="120.3" r="0.9"/><circle cx="1622.1" cy="117.7" r="0.8"/><circle cx="1624.2" cy="119.1" r="0.8"/><circle cx="1626.7" cy="120.2" r="0.7"/><circle cx="1628.1" cy="120.5" r="0.9"/><circle cx="1631.9" cy="121.6" r="1.0"/><circle cx="1636.3" cy="120.6" r="0.7"/><circle cx="1639.6" cy="122.5" r="1.1"/><circle cx="1643.5" cy="121.9" r="1.0"/><circle cx="1646.2" cy="119.9" r="1.1"/><circle cx="1651.1" cy="122.3" r="1.0"/><circle cx="1653.2" cy="121.6" r="1.1"/><circle cx="1656.9" cy="125.0" r="0.8"/><circle cx="1660.0" cy="123.5" r="1.0"/><circle cx="1664.6" cy="121.2" r="0.9"/><circle cx="1667.1" cy="122.1" r="1.2"/><circle cx="1668.8" cy="122.7" r="0.8"/><circle cx="1674.6" cy="121.9" r="1.1"/><circle cx="1676.5" cy="122.8" r="0.8"/><circle cx="1678.2" cy="123.2" r="0.8"/><circle cx="1684.4" cy="123.8" r="0.9"/><circle cx="1687.9" cy="122.6" r="0.8"/><circle cx="1691.1" cy="121.1" r="1.0"/><circle cx="1693.6" cy="122.6" r="1.0"/><circle cx="1696.3" cy="120.2" r="1.2"/><circle cx="1699.2" cy="121.1" r="1.0"/><circle cx="1704.1" cy="124.0" r="1.1"/><circle cx="1705.6" cy="121.7" r="1.2"/><circle cx="1708.1" cy="122.4" r="1.2"/><circle cx="1709.7" cy="122.0" r="1.2"/><circle cx="1715.2" cy="118.4" r="0.8"/><circle cx="1717.3" cy="119.1" r="0.7"/><circle cx="1720.3" cy="119.7" r="0.9"/><circle cx="1722.6" cy="122.6" r="1.2"/></g>
</g>
<g transform="translate(228.5 0) scale(0.935 1)"><text x="-105.77" y="154.70" font-weight="bold" font-size="58.0" font-family="Liberation Sans" style="font-kerning:none" text-rendering="geometricPrecision">10<tspan font-size="46.4" dy="-21.20">-9</tspan></text><g fill="#fff"><rect x="-103.32" y="142.52" width="11.08" height="13.78"/><rect x="-84.28" y="142.52" width="10.35" height="13.78"/></g></g>
<g transform="translate(228.5 0) scale(0.935 1)"><text x="-131.58" y="364.10" font-weight="bold" font-size="58.0" font-family="Liberation Sans" style="font-kerning:none" text-rendering="geometricPrecision">10<tspan font-size="46.4" dy="-21.20">-10</tspan></text><g fill="#fff"><rect x="-129.12" y="351.92" width="11.08" height="13.78"/><rect x="-110.08" y="351.92" width="10.35" height="13.78"/><rect x="-49.89" y="333.16" width="9.11" height="11.34"/><rect x="-34.41" y="333.16" width="8.52" height="11.34"/></g></g>
<g transform="translate(228.5 0) scale(0.935 1)"><text x="-131.58" y="573.50" font-weight="bold" font-size="58.0" font-family="Liberation Sans" style="font-kerning:none" text-rendering="geometricPrecision">10<tspan font-size="46.4" dy="-21.20">-11</tspan></text><g fill="#fff"><rect x="-129.12" y="561.32" width="11.08" height="13.78"/><rect x="-110.08" y="561.32" width="10.35" height="13.78"/><rect x="-49.89" y="542.56" width="9.11" height="11.34"/><rect x="-34.41" y="542.56" width="8.52" height="11.34"/><rect x="-24.08" y="542.56" width="9.11" height="11.34"/><rect x="-8.61" y="542.56" width="8.52" height="11.34"/></g></g>
<g transform="translate(228.5 0) scale(0.935 1)"><text x="-131.58" y="782.90" font-weight="bold" font-size="58.0" font-family="Liberation Sans" style="font-kerning:none" text-rendering="geometricPrecision">10<tspan font-size="46.4" dy="-21.20">-12</tspan></text><g fill="#fff"><rect x="-129.12" y="770.72" width="11.08" height="13.78"/><rect x="-110.08" y="770.72" width="10.35" height="13.78"/><rect x="-49.89" y="751.96" width="9.11" height="11.34"/><rect x="-34.41" y="751.96" width="8.52" height="11.34"/></g></g>
<g transform="translate(228.5 0) scale(0.935 1)"><text x="-131.58" y="992.30" font-weight="bold" font-size="58.0" font-family="Liberation Sans" style="font-kerning:none" text-rendering="geometricPrecision">10<tspan font-size="46.4" dy="-21.20">-13</tspan></text><g fill="#fff"><rect x="-129.12" y="980.12" width="11.08" height="13.78"/><rect x="-110.08" y="980.12" width="10.35" height="13.78"/><rect x="-49.89" y="961.36" width="9.11" height="11.34"/><rect x="-34.41" y="961.36" width="8.52" height="11.34"/></g></g>
<g transform="translate(454.90 0) scale(0.935 1)"><text x="-32.26" y="1156" font-weight="bold" font-size="58.0" font-family="Liberation Sans" style="font-kerning:none" text-rendering="geometricPrecision">10</text><g fill="#fff"><rect x="-29.80" y="1143.82" width="11.08" height="13.78"/><rect x="-10.76" y="1143.82" width="10.35" height="13.78"/></g></g>
<g transform="translate(953.10 0) scale(0.935 1)"><text x="-48.39" y="1156" font-weight="bold" font-size="58.0" font-family="Liberation Sans" style="font-kerning:none" text-rendering="geometricPrecision">100</text><g fill="#fff"><rect x="-45.93" y="1143.82" width="11.08" height="13.78"/><rect x="-26.89" y="1143.82" width="10.35" height="13.78"/></g></g>
<g transform="translate(1451.30 0) scale(0.935 1)"><text x="-64.51" y="1156" font-weight="bold" font-size="58.0" font-family="Liberation Sans" style="font-kerning:none" text-rendering="geometricPrecision">1000</text><g fill="#fff"><rect x="-62.06" y="1143.82" width="11.08" height="13.78"/><rect x="-43.02" y="1143.82" width="10.35" height="13.78"/></g></g>
<text transform="translate(1006.4 1255) scale(0.931 1)" text-anchor="middle" font-weight="bold" font-size="62.2" font-family="Liberation Sans" style="font-kerning:none" text-rendering="geometricPrecision">Time (s)</text>
<text transform="translate(66 596) rotate(-90) scale(0.985 1)" text-anchor="middle" font-weight="bold" font-size="61" font-family="Liberation Sans" style="font-kerning:none" text-rendering="geometricPrecision">Charging Current (A)</text>
<rect x="271.6" y="518.5" width="206.7" height="544.5" fill="#fff" stroke="#000" stroke-width="2.6"/>
<use href="#s0" x="325.5" y="552.0"/>
<text x="381.5" y="565.0" font-size="39.3" font-family="Liberation Sans" style="font-kerning:none" text-rendering="geometricPrecision">2kV</text>
<use href="#s1" x="325.5" y="600.3"/>
<text x="381.5" y="613.3" font-size="39.3" font-family="Liberation Sans" style="font-kerning:none" text-rendering="geometricPrecision">4kV</text>
<use href="#s2" x="325.5" y="646.4"/>
<text x="381.5" y="661.6" font-size="39.3" font-family="Liberation Sans" style="font-kerning:none" text-rendering="geometricPrecision">6kV</text>
<use href="#s3" x="325.5" y="699.1"/>
<text x="381.5" y="709.9" font-size="39.3" font-family="Liberation Sans" style="font-kerning:none" text-rendering="geometricPrecision">8kV</text>
<use href="#s4" x="325.5" y="745.2"/>
<text x="381.5" y="758.2" font-size="39.3" font-family="Liberation Sans" style="font-kerning:none" text-rendering="geometricPrecision">10kV</text>
<g fill="#fff"><rect x="383.29" y="749.95" width="8.09" height="9.85"/><rect x="394.86" y="749.95" width="7.78" height="9.85"/></g>
<use href="#s5" x="325.5" y="793.5"/>
<text x="381.5" y="806.5" font-size="39.3" font-family="Liberation Sans" style="font-kerning:none" text-rendering="geometricPrecision">13kV</text>
<g fill="#fff"><rect x="383.29" y="798.25" width="8.09" height="9.85"/><rect x="394.86" y="798.25" width="7.78" height="9.85"/></g>
<use href="#s6" x="325.5" y="841.8"/>
<text x="381.5" y="854.8" font-size="39.3" font-family="Liberation Sans" style="font-kerning:none" text-rendering="geometricPrecision">16kV</text>
<g fill="#fff"><rect x="383.29" y="846.55" width="8.09" height="9.85"/><rect x="394.86" y="846.55" width="7.78" height="9.85"/></g>
<use href="#s7" x="325.5" y="890.1"/>
<text x="381.5" y="903.1" font-size="39.3" font-family="Liberation Sans" style="font-kerning:none" text-rendering="geometricPrecision">19kV</text>
<g fill="#fff"><rect x="383.29" y="894.85" width="8.09" height="9.85"/><rect x="394.86" y="894.85" width="7.78" height="9.85"/></g>
<use href="#s8" x="325.5" y="938.4"/>
<text x="381.5" y="951.4" font-size="39.3" font-family="Liberation Sans" style="font-kerning:none" text-rendering="geometricPrecision">22kV</text>
<use href="#s9" x="325.5" y="986.7"/>
<text x="381.5" y="999.7" font-size="39.3" font-family="Liberation Sans" style="font-kerning:none" text-rendering="geometricPrecision">25kV</text>
<use href="#sph2" x="325.5" y="1035.0"/>
<text x="381.5" y="1048.0" font-size="39.3" font-family="Liberation Sans" style="font-kerning:none" text-rendering="geometricPrecision">30kV</text>
</svg></body></html>
